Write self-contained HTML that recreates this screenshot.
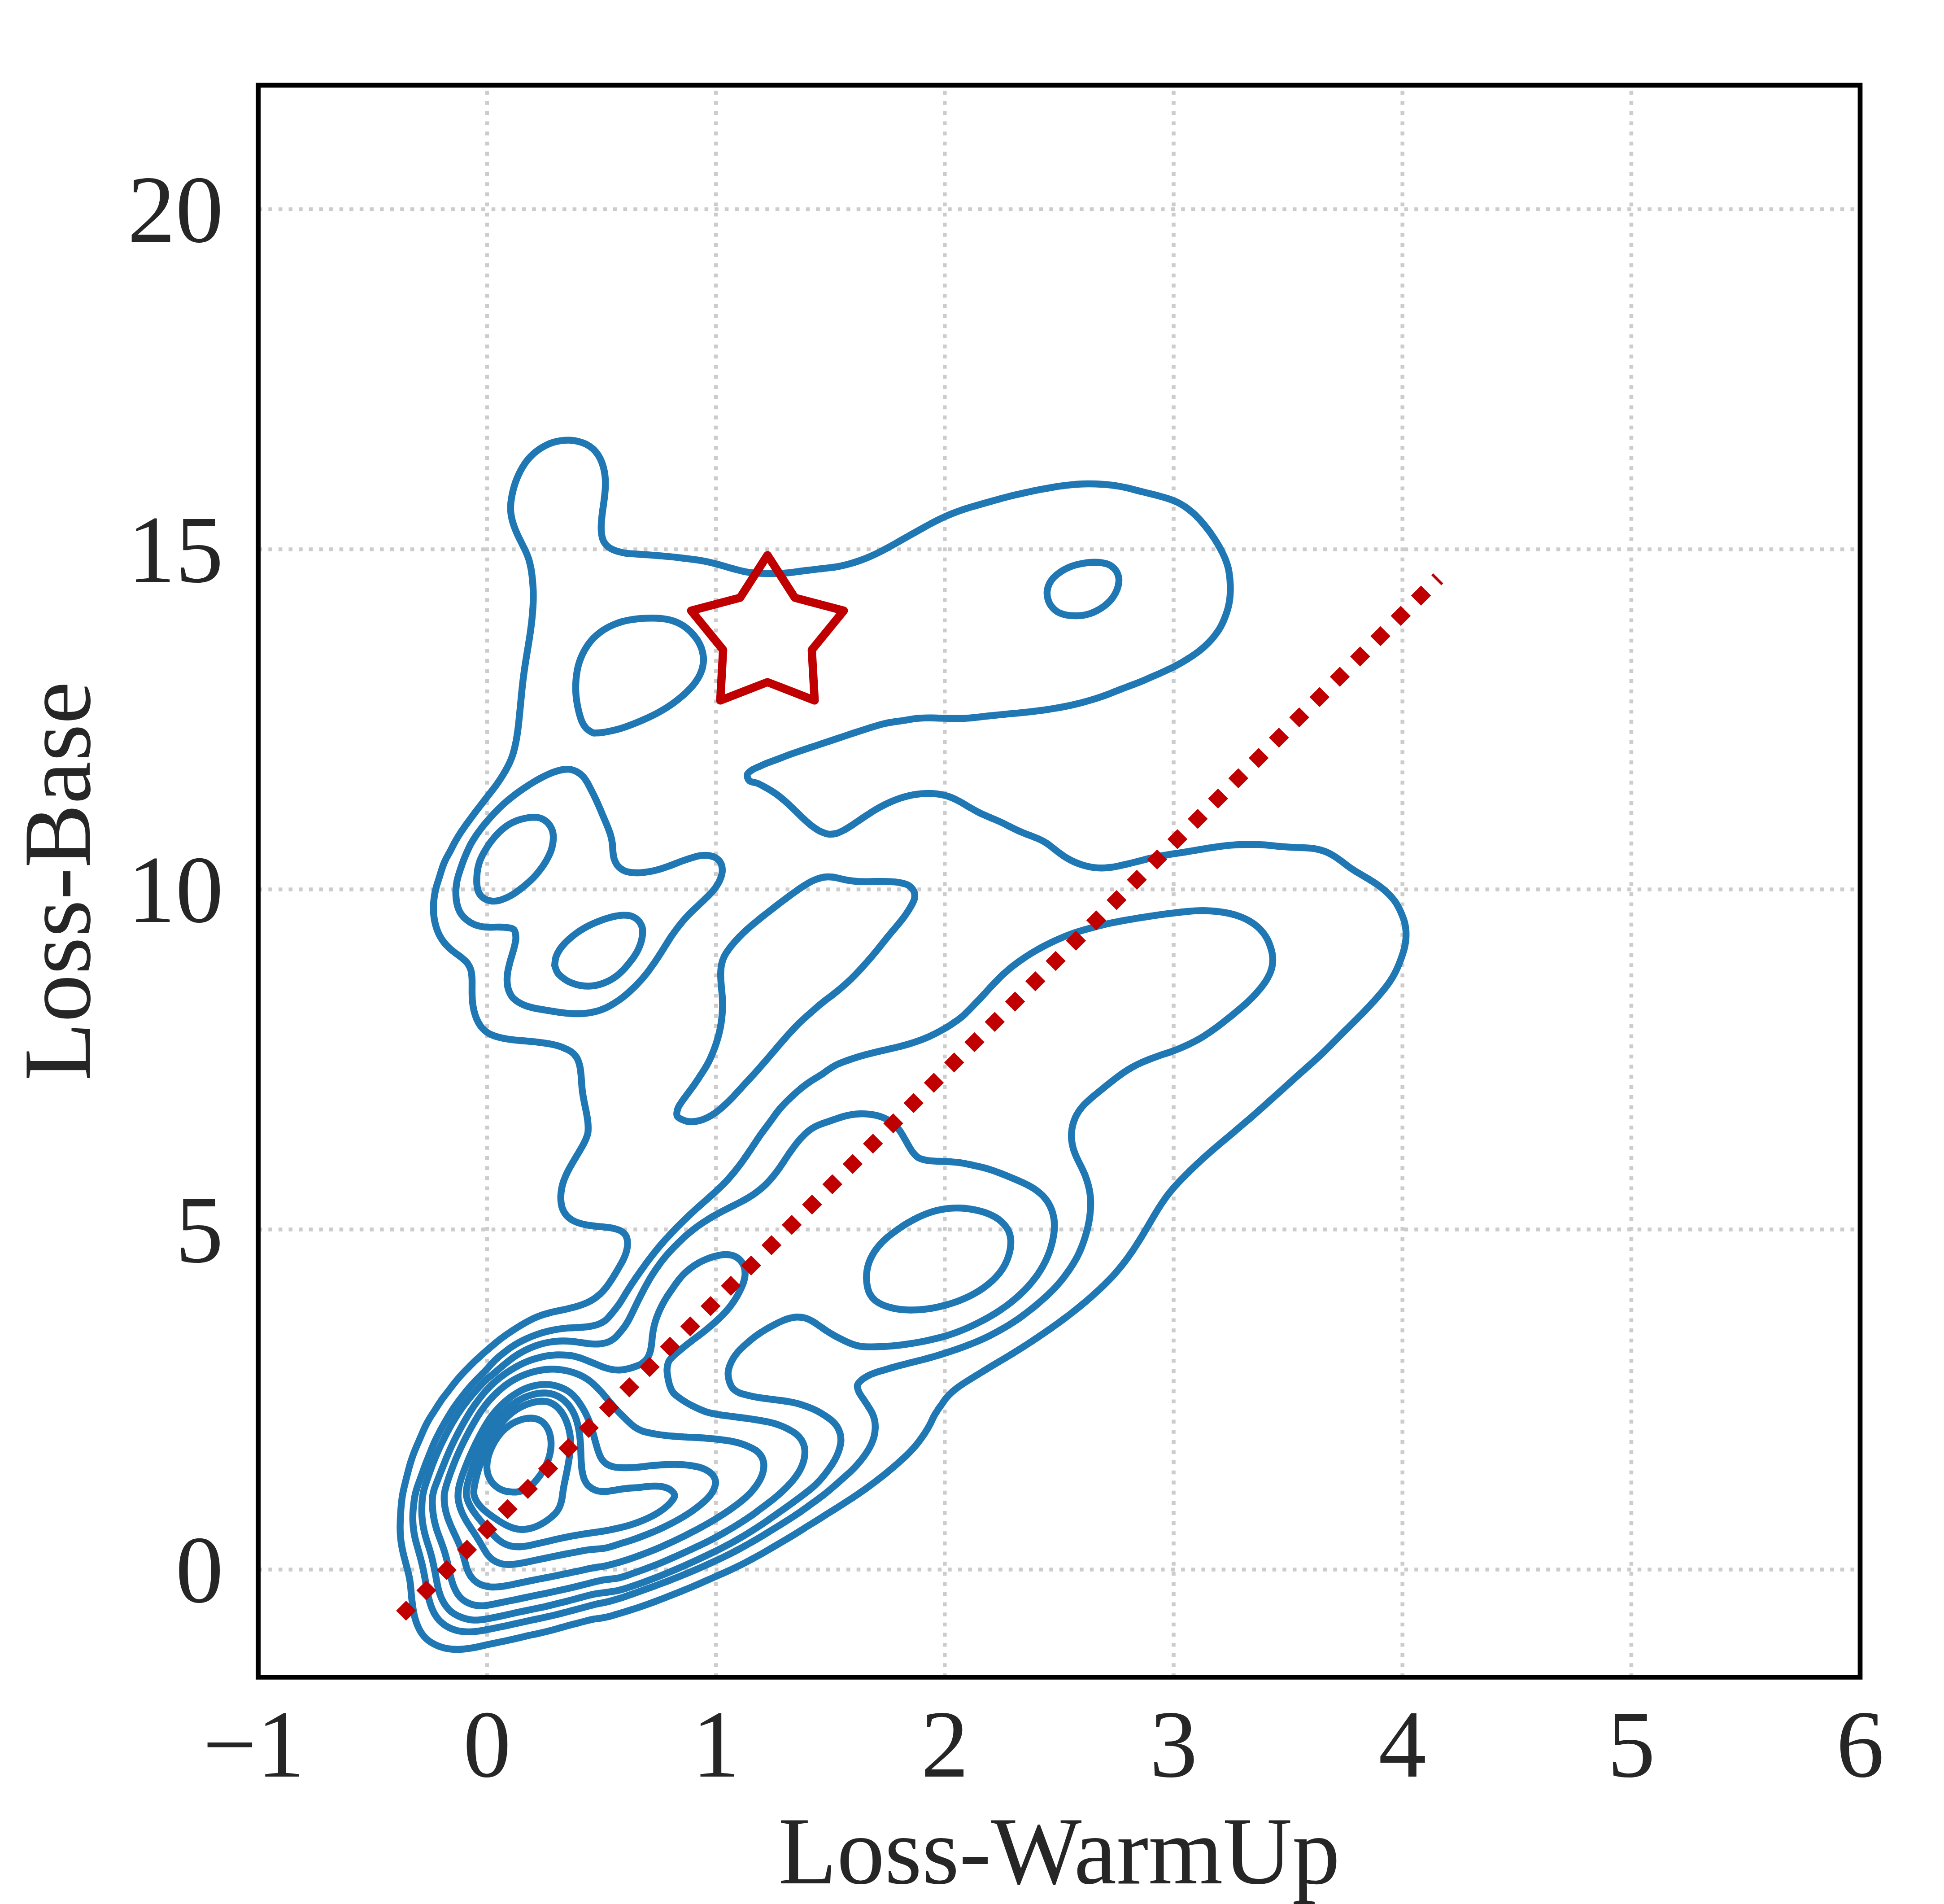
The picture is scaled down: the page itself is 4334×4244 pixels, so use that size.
<!DOCTYPE html>
<html lang="en">
<head>
<meta charset="utf-8">
<title>Loss-Base vs Loss-WarmUp</title>
<style>
html,body{margin:0;padding:0;background:#ffffff;}
body{width:4334px;height:4244px;overflow:hidden;}
svg{display:block;}
</style>
</head>
<body>
<svg width="4334" height="4244" viewBox="0 0 4334 4244">
<rect x="0" y="0" width="4334" height="4244" fill="#ffffff"/>
<g stroke="#cccccc" stroke-width="8.55" stroke-dasharray="8.55 14.06" fill="none"><line x1="575.7" y1="3738.4" x2="575.7" y2="190"/><line x1="1085.9" y1="3738.4" x2="1085.9" y2="190"/><line x1="1596.1" y1="3738.4" x2="1596.1" y2="190"/><line x1="2106.3" y1="3738.4" x2="2106.3" y2="190"/><line x1="2616.5" y1="3738.4" x2="2616.5" y2="190"/><line x1="3126.7" y1="3738.4" x2="3126.7" y2="190"/><line x1="3636.9" y1="3738.4" x2="3636.9" y2="190"/><line x1="4147.1" y1="3738.4" x2="4147.1" y2="190"/><line x1="575.7" y1="3498.4" x2="4147" y2="3498.4"/><line x1="575.7" y1="2740.4" x2="4147" y2="2740.4"/><line x1="575.7" y1="1982.4" x2="4147" y2="1982.4"/><line x1="575.7" y1="1224.4" x2="4147" y2="1224.4"/><line x1="575.7" y1="466.4" x2="4147" y2="466.4"/></g>
<g stroke="#1f77b4" stroke-width="15.4" fill="none" stroke-linejoin="round" stroke-linecap="round"><path d="M2208.1 1822.6C2203.9 1820.8 2198.1 1818.4 2193.1 1816.1C2188.1 1813.8 2183.1 1811.5 2178.2 1808.9C2173.3 1806.3 2168.4 1803.5 2163.6 1800.7C2158.8 1798 2154.3 1795.1 2149.4 1792.2C2144.5 1789.4 2139.4 1786.4 2133.9 1783.7C2128.5 1781 2122.5 1778.2 2116.7 1776.1C2110.9 1774 2105 1772.5 2099.1 1771.3C2093.3 1770.1 2087.5 1769.4 2081.5 1769C2075.5 1768.5 2069.4 1768.4 2063.2 1768.6C2057 1768.9 2050.5 1769.4 2044.4 1770.3C2038.2 1771.1 2032.3 1772.2 2026.2 1773.7C2020 1775.1 2013.4 1777 2007.2 1779C2001.1 1781.1 1995.2 1783.4 1989.3 1785.9C1983.4 1788.4 1977.3 1791.2 1971.7 1794C1966.1 1796.8 1960.6 1799.8 1955.6 1802.7C1950.5 1805.6 1946 1808.4 1941.3 1811.4C1936.6 1814.4 1932.1 1817.4 1927.4 1820.5C1922.7 1823.6 1918.1 1826.8 1913.2 1830.1C1908.3 1833.4 1903.4 1836.9 1898.3 1840.2C1893.1 1843.5 1887.8 1847.1 1882.2 1850C1876.5 1852.9 1870.5 1856.1 1864.5 1857.7C1858.4 1859.2 1851.8 1859.8 1846.1 1859.1C1840.4 1858.5 1835.3 1856.1 1830.1 1853.7C1825 1851.4 1820.1 1848.1 1815.3 1844.8C1810.5 1841.5 1805.7 1837.6 1801.3 1833.8C1796.9 1830.1 1792.8 1826.3 1788.7 1822.4C1784.5 1818.5 1780.7 1814.6 1776.4 1810.4C1772.1 1806.2 1767.4 1801.6 1762.8 1797.3C1758.2 1792.9 1753.4 1788.4 1748.7 1784.4C1744 1780.4 1739.3 1776.5 1734.7 1773C1730 1769.5 1725.4 1766.4 1720.7 1763.3C1715.9 1760.3 1711.2 1757.6 1705.9 1754.7C1700.6 1751.8 1694.6 1748.4 1688.8 1746C1682.9 1743.7 1674.7 1743.8 1670.9 1740.5C1667.2 1737.2 1665 1730.4 1666.1 1726.3C1667.3 1722.1 1673.2 1718.6 1677.6 1715.7C1682.1 1712.7 1687.8 1710.8 1693 1708.4C1698.2 1706 1703.4 1703.6 1709 1701.4C1714.5 1699.1 1720.5 1697.2 1726.3 1695C1732.2 1692.8 1738.1 1690.5 1744.1 1688.2C1750.1 1685.9 1756.3 1683.5 1762.4 1681.3C1768.5 1679.1 1774.6 1677 1780.7 1675C1786.7 1672.9 1792.8 1670.8 1798.7 1668.9C1804.5 1666.9 1809.9 1665.1 1815.7 1663.2C1821.4 1661.3 1827.3 1659.3 1833.1 1657.4C1838.9 1655.5 1844.6 1653.5 1850.4 1651.6C1856.3 1649.6 1862.3 1647.6 1868.2 1645.6C1874 1643.7 1880 1641.7 1885.8 1639.7C1891.7 1637.8 1897.5 1635.8 1903.3 1633.9C1909.2 1632 1915 1630.1 1920.8 1628.2C1926.7 1626.3 1932.6 1624.4 1938.6 1622.5C1944.5 1620.7 1950.5 1618.7 1956.3 1617.1C1962.1 1615.4 1967.8 1613.8 1973.6 1612.5C1979.3 1611.2 1985.1 1610.3 1990.7 1609.4C1996.3 1608.5 2001.5 1607.9 2007.1 1607.1C2012.8 1606.3 2018.6 1605.2 2024.4 1604.3C2030.3 1603.4 2036.2 1602.4 2042.1 1601.7C2048 1601 2054 1600.6 2060 1600.4C2066 1600.1 2072 1600.1 2078 1600.2C2084 1600.2 2090 1600.6 2096 1600.7C2102.1 1600.9 2108.2 1601.1 2114.2 1601.3C2120.2 1601.4 2126.1 1601.5 2132.1 1601.5C2138 1601.5 2144.1 1601.5 2149.9 1601.2C2155.7 1601 2161.3 1600.5 2167 1600C2172.6 1599.4 2178.2 1598.7 2184 1598.1C2189.8 1597.4 2196 1596.7 2202 1596C2208.1 1595.4 2214.2 1594.8 2220.5 1594.1C2226.7 1593.5 2233.1 1592.9 2239.4 1592.3C2245.6 1591.6 2251.9 1591 2258.2 1590.4C2264.4 1589.8 2270.5 1589.3 2276.7 1588.7C2283 1588 2289.3 1587.4 2295.5 1586.7C2301.7 1586 2307.9 1585.2 2314.1 1584.4C2320.2 1583.6 2326.5 1582.8 2332.6 1581.9C2338.7 1580.9 2345 1580 2350.9 1579C2356.9 1578 2362.7 1577 2368.4 1575.9C2374 1574.8 2379.5 1573.7 2385 1572.6C2390.6 1571.4 2396 1570.2 2401.5 1568.8C2407 1567.4 2412.6 1566 2418.2 1564.4C2423.8 1562.9 2429.5 1561.2 2435.1 1559.5C2440.7 1557.8 2446.1 1556.1 2451.7 1554.2C2457.3 1552.3 2463 1550.3 2468.7 1548.2C2474.3 1546.1 2480 1543.7 2485.6 1541.5C2491.2 1539.3 2496.7 1537.1 2502.3 1535C2507.9 1532.8 2513.7 1530.7 2519.4 1528.5C2525.1 1526.4 2530.7 1524.4 2536.4 1522.1C2542.1 1519.9 2548 1517.5 2553.7 1515C2559.5 1512.5 2565.3 1509.9 2571.1 1507.3C2576.9 1504.8 2582.7 1502.3 2588.5 1499.7C2594.3 1497 2600.5 1494.4 2606 1491.7C2611.6 1489.1 2616.8 1486.5 2622 1483.8C2627.1 1481 2632 1478.3 2637 1475.4C2642.1 1472.4 2647.2 1469.3 2652.2 1466.1C2657.2 1462.8 2662.3 1459.4 2667.1 1455.9C2671.8 1452.5 2676.4 1448.9 2680.7 1445.2C2685.1 1441.5 2689.1 1437.9 2693.2 1433.7C2697.3 1429.5 2701.6 1424.8 2705.5 1420.1C2709.4 1415.3 2713.3 1410.1 2716.6 1405.1C2719.8 1400.1 2722.4 1395.4 2724.9 1390.2C2727.4 1385 2729.6 1379.7 2731.7 1374C2733.8 1368.4 2736 1362.1 2737.6 1356.1C2739.2 1350.1 2740.4 1344 2741.3 1338C2742.2 1332 2742.6 1326 2742.8 1320C2743.1 1314 2743 1308 2742.7 1302C2742.5 1296 2742 1290 2741.2 1284C2740.5 1278 2739.6 1272 2738.2 1266C2736.7 1260 2734.7 1253.9 2732.5 1248C2730.2 1242.1 2727.3 1236.1 2724.6 1230.6C2721.9 1225 2719 1220 2716.1 1214.9C2713.2 1209.8 2710.1 1204.9 2707 1200.1C2703.8 1195.3 2700.7 1190.8 2697.4 1186.1C2694 1181.5 2690.5 1177 2686.8 1172.4C2683 1167.8 2678.9 1162.9 2674.7 1158.3C2670.5 1153.8 2666.2 1149.2 2661.6 1145C2656.9 1140.8 2651.9 1136.6 2647 1133C2642.1 1129.4 2637.1 1126.2 2632.1 1123.4C2627.1 1120.6 2622.3 1118.4 2617.1 1116.2C2611.8 1114 2606.3 1112.2 2600.6 1110.3C2594.8 1108.5 2588.5 1106.8 2582.7 1105.2C2576.8 1103.6 2571.2 1102.2 2565.4 1100.8C2559.6 1099.3 2553.7 1097.9 2547.9 1096.4C2542 1095 2536.2 1093.5 2530.4 1092C2524.6 1090.5 2518.9 1088.9 2513.1 1087.6C2507.4 1086.3 2501.6 1085 2495.8 1084C2490 1082.9 2484.1 1082.1 2478.2 1081.3C2472.4 1080.6 2466.6 1080 2460.7 1079.6C2454.8 1079.1 2448.8 1078.9 2442.9 1078.7C2437 1078.5 2431.3 1078.4 2425.4 1078.5C2419.5 1078.6 2413.4 1078.7 2407.7 1079C2402 1079.3 2396.8 1079.7 2391.1 1080.3C2385.4 1080.8 2379.4 1081.5 2373.5 1082.2C2367.6 1082.9 2361.7 1083.8 2355.7 1084.7C2349.7 1085.7 2343.7 1086.7 2337.5 1087.8C2331.3 1088.9 2324.7 1090.1 2318.5 1091.3C2312.3 1092.5 2306.3 1093.7 2300.3 1094.9C2294.2 1096.2 2288.3 1097.5 2282.3 1098.9C2276.3 1100.2 2270.2 1101.6 2264.1 1103.1C2258 1104.5 2252 1106 2245.9 1107.6C2239.8 1109.2 2233.6 1110.8 2227.5 1112.5C2221.5 1114.1 2215.3 1115.9 2209.4 1117.5C2203.4 1119.2 2197.6 1120.9 2191.8 1122.5C2186 1124.2 2180.2 1125.8 2174.5 1127.5C2168.9 1129.1 2163.5 1130.6 2158 1132.3C2152.5 1134.1 2147.2 1135.8 2141.7 1137.7C2136.2 1139.6 2130.4 1141.8 2124.8 1144C2119.2 1146.2 2113.7 1148.5 2108.1 1151C2102.5 1153.5 2096.9 1156.1 2091.3 1158.9C2085.6 1161.7 2079.9 1164.8 2074.2 1167.8C2068.6 1170.8 2062.9 1174 2057.5 1177C2052.1 1179.9 2046.9 1182.8 2041.8 1185.7C2036.6 1188.6 2031.8 1191.3 2026.8 1194.1C2021.8 1196.9 2016.9 1199.7 2012 1202.5C2007 1205.4 2002 1208.2 1997 1211.1C1992 1213.9 1987.1 1216.8 1982 1219.6C1976.8 1222.4 1971.6 1225.2 1966.1 1228C1960.7 1230.7 1954.8 1233.7 1949.1 1236.3C1943.4 1239 1937.7 1241.5 1931.9 1243.9C1926.1 1246.2 1920.2 1248.4 1914.4 1250.4C1908.6 1252.4 1903 1254.2 1897.2 1255.9C1891.3 1257.6 1885.4 1259.2 1879.5 1260.5C1873.7 1261.8 1867.8 1262.9 1862 1263.9C1856.2 1264.8 1850.5 1265.4 1844.6 1266.1C1838.7 1266.9 1832.6 1267.5 1826.6 1268.2C1820.5 1268.8 1814.5 1269.6 1808.4 1270.3C1802.4 1271 1796.1 1271.8 1790.2 1272.5C1784.2 1273.3 1778.5 1274.1 1772.8 1274.8C1767 1275.6 1761.4 1276.3 1755.7 1276.9C1750 1277.4 1744.3 1277.8 1738.6 1278.1C1732.9 1278.4 1727.1 1278.5 1721.4 1278.5C1715.7 1278.6 1710 1278.5 1704.3 1278.3C1698.6 1278.2 1692.9 1278 1687.1 1277.6C1681.4 1277.2 1675.7 1276.6 1670 1275.8C1664.3 1274.9 1658.6 1273.7 1652.9 1272.4C1647.1 1271.1 1641.4 1269.5 1635.7 1268C1630 1266.5 1624.3 1264.8 1618.6 1263.2C1612.9 1261.5 1607.1 1259.7 1601.4 1258.2C1595.8 1256.6 1590.2 1255.1 1584.7 1253.9C1579.2 1252.6 1574.2 1251.6 1568.5 1250.5C1562.9 1249.5 1556.7 1248.5 1550.8 1247.7C1545 1246.8 1539.4 1246.1 1533.4 1245.4C1527.4 1244.6 1521.1 1243.9 1514.9 1243.2C1508.8 1242.5 1502.6 1241.8 1496.4 1241.2C1490.3 1240.6 1484.2 1239.9 1478 1239.4C1471.7 1238.8 1465.1 1238.3 1458.9 1237.8C1452.7 1237.3 1446.9 1236.9 1440.9 1236.5C1434.9 1236 1428.9 1235.7 1423.1 1235.3C1417.2 1234.9 1411.5 1234.7 1405.8 1234.2C1400.1 1233.6 1394.7 1233.2 1388.9 1231.9C1383.1 1230.7 1376.3 1229.1 1370.8 1226.9C1365.3 1224.7 1359.9 1222.1 1355.7 1218.7C1351.5 1215.3 1348.1 1211.1 1345.7 1206.5C1343.3 1201.8 1342.1 1195.9 1341.2 1190.6C1340.3 1185.4 1340.3 1180.6 1340.3 1175.1C1340.3 1169.6 1340.8 1163.8 1341.3 1157.8C1341.8 1151.9 1342.6 1145.5 1343.3 1139.5C1344.1 1133.5 1345.1 1127.7 1345.9 1121.8C1346.6 1115.9 1347.5 1110 1348.1 1104.1C1348.7 1098.2 1349.3 1092.3 1349.5 1086.4C1349.8 1080.5 1349.9 1074.6 1349.5 1068.6C1349.1 1062.6 1348.5 1056.6 1347.3 1050.6C1346.1 1044.5 1344.5 1038.1 1342.3 1032.1C1340.1 1026.2 1337.3 1020.1 1333.9 1014.8C1330.5 1009.6 1326.6 1004.6 1321.9 1000.5C1317.2 996.3 1311.5 992.6 1305.8 989.7C1300 986.9 1293.6 984.8 1287.4 983.4C1281.1 981.9 1274.5 981.3 1268.2 981.1C1261.9 981 1255.6 981.6 1249.7 982.4C1243.9 983.3 1238.4 984.5 1233 986.2C1227.7 987.8 1222.7 989.8 1217.6 992.3C1212.5 994.8 1207.4 997.8 1202.4 1001.2C1197.4 1004.7 1192.1 1008.9 1187.6 1013C1183.1 1017.2 1179.1 1021.6 1175.4 1026.2C1171.7 1030.8 1168.7 1035.3 1165.5 1040.4C1162.4 1045.6 1159.3 1051.2 1156.6 1057C1153.9 1062.7 1151.4 1069 1149.2 1075C1147.1 1081.1 1145.3 1087.2 1143.8 1093.3C1142.3 1099.3 1141 1105.5 1140.1 1111.6C1139.1 1117.7 1138.5 1123.9 1138.3 1129.8C1138.2 1135.7 1138.5 1141.1 1139.4 1146.9C1140.2 1152.8 1141.7 1158.8 1143.4 1164.8C1145.2 1170.7 1147.5 1176.9 1149.8 1182.6C1152.1 1188.4 1154.7 1193.8 1157.3 1199.2C1159.8 1204.6 1162.6 1209.8 1165.1 1215C1167.7 1220.2 1170.4 1225 1172.7 1230.4C1175 1235.8 1177.3 1241.5 1179.1 1247.3C1180.8 1253.1 1182.2 1259.3 1183.4 1265.2C1184.5 1271.1 1185.3 1276.8 1186.1 1282.7C1186.8 1288.6 1187.4 1294.6 1187.8 1300.3C1188.3 1306.1 1188.6 1311.6 1188.8 1317.4C1188.9 1323.1 1189 1329 1188.9 1334.7C1188.8 1340.4 1188.6 1345.9 1188.3 1351.6C1187.9 1357.2 1187.5 1363 1187 1368.6C1186.5 1374.3 1186 1379.9 1185.4 1385.5C1184.7 1391 1184.1 1396.4 1183.3 1402C1182.6 1407.6 1181.7 1413.2 1180.9 1419C1180 1424.9 1179.1 1430.8 1178.1 1436.9C1177.1 1443 1176 1449.5 1175 1455.6C1174 1461.8 1172.9 1468.1 1172 1474.1C1171 1480.1 1170.1 1485.9 1169.3 1491.6C1168.5 1497.3 1167.8 1502.6 1167.1 1508.3C1166.3 1513.9 1165.7 1519.3 1165 1525.3C1164.3 1531.2 1163.7 1537.6 1163 1543.9C1162.4 1550.1 1161.8 1556.7 1161.2 1562.9C1160.6 1569.1 1160 1575.2 1159.4 1581.2C1158.8 1587.1 1158.3 1592.9 1157.7 1598.6C1157.1 1604.3 1156.6 1609.7 1155.9 1615.4C1155.3 1621.1 1154.6 1627 1153.7 1632.7C1152.9 1638.5 1152 1644.3 1150.9 1650.1C1149.8 1656 1148.5 1662 1147.1 1667.9C1145.7 1673.7 1144.1 1679.5 1142.2 1685.1C1140.2 1690.7 1138 1696.1 1135.5 1701.5C1132.9 1707 1130 1712.3 1127 1717.7C1123.9 1723.1 1120.6 1728.6 1117.2 1733.9C1113.8 1739.2 1110.2 1744.5 1106.6 1749.5C1103.1 1754.4 1099.5 1758.9 1095.9 1763.6C1092.3 1768.2 1088.6 1772.9 1085.1 1777.5C1081.5 1782.1 1078 1786.6 1074.4 1791.2C1070.8 1795.8 1067.3 1800.5 1063.7 1805.1C1060.1 1809.8 1056.6 1814.6 1053 1819.4C1049.4 1824.2 1045.8 1829 1042.3 1833.8C1038.8 1838.7 1035.5 1843.3 1032 1848.4C1028.5 1853.5 1024.8 1859 1021.5 1864.4C1018.1 1869.8 1015.1 1875.3 1012.1 1880.7C1009.2 1886.2 1006.6 1891.8 1003.8 1897.1C1001 1902.3 998 1907.2 995.5 1912.1C993 1917.1 990.7 1921.8 988.7 1927C986.6 1932.1 985.1 1937.4 983.3 1942.9C981.6 1948.4 979.9 1954.1 978.1 1959.8C976.3 1965.5 974.3 1971.2 972.7 1977.2C971.2 1983.2 969.7 1989.5 968.7 1995.7C967.7 2001.9 966.9 2008.2 966.5 2014.5C966.2 2020.8 966.2 2027.1 966.5 2033.3C966.9 2039.5 967.7 2045.9 968.8 2051.8C969.9 2057.7 971.4 2063.5 973.2 2068.9C975 2074.4 977 2079.4 979.6 2084.5C982.2 2089.5 985.2 2094.3 988.8 2099C992.4 2103.7 996.6 2108.4 1001 2112.6C1005.4 2116.8 1010.4 2120.5 1015.1 2124.2C1019.9 2127.9 1025.1 2131.1 1029.6 2134.9C1034.1 2138.8 1038.9 2142.7 1042.2 2147.1C1045.5 2151.6 1047.9 2156.3 1049.6 2161.6C1051.2 2166.9 1051.7 2172.9 1052.2 2178.9C1052.7 2185 1052.4 2191.6 1052.5 2197.8C1052.5 2204 1052.3 2210 1052.5 2216.2C1052.7 2222.3 1052.8 2228.5 1053.6 2234.7C1054.3 2240.9 1055.3 2247.3 1056.8 2253.5C1058.4 2259.7 1060.4 2266.2 1063 2272.1C1065.7 2278 1068.9 2283.8 1072.6 2288.6C1076.4 2293.4 1080.5 2297.4 1085.5 2300.8C1090.4 2304.2 1096.2 2306.8 1102.1 2309C1107.9 2311.2 1114.5 2312.7 1120.5 2314C1126.6 2315.4 1132.6 2316.2 1138.6 2317.1C1144.6 2317.9 1150.5 2318.5 1156.4 2319C1162.3 2319.6 1168.2 2320 1174.1 2320.5C1180 2321.1 1185.9 2321.6 1191.8 2322.2C1197.7 2322.9 1203.5 2323.5 1209.5 2324.3C1215.5 2325.2 1221.7 2326.1 1227.6 2327.2C1233.6 2328.4 1239.5 2329.7 1245 2331.4C1250.5 2333.1 1255.5 2335.1 1260.5 2337.4C1265.5 2339.7 1270.7 2341.9 1275 2345.4C1279.4 2348.9 1283.6 2353.6 1286.5 2358.7C1289.4 2363.8 1291.2 2370.1 1292.6 2376.2C1294.1 2382.3 1294.7 2388.9 1295.3 2395.2C1296 2401.6 1296.1 2408.1 1296.7 2414.4C1297.2 2420.8 1297.7 2427.1 1298.5 2433.3C1299.3 2439.4 1300.3 2445.2 1301.5 2451.3C1302.6 2457.3 1304 2463.6 1305.2 2469.7C1306.5 2475.8 1307.8 2481.7 1308.7 2487.8C1309.7 2493.9 1310.7 2500.2 1311 2506.5C1311.3 2512.7 1311.7 2519.3 1310.6 2525.3C1309.6 2531.2 1307.1 2536.8 1304.7 2542.4C1302.2 2548.1 1298.9 2553.7 1295.9 2559.1C1292.9 2564.5 1289.7 2569.6 1286.6 2574.8C1283.6 2579.9 1280.5 2584.9 1277.5 2590.1C1274.4 2595.4 1271.2 2600.9 1268.3 2606.4C1265.4 2611.9 1262.6 2617.5 1260.3 2623.1C1257.9 2628.6 1255.8 2634 1254.3 2639.8C1252.7 2645.6 1251.5 2651.7 1250.9 2657.7C1250.2 2663.7 1250 2669.9 1250.4 2675.8C1250.9 2681.6 1251.5 2687.4 1253.6 2692.9C1255.6 2698.4 1258.9 2704.4 1262.6 2708.8C1266.2 2713.2 1270.5 2716.5 1275.5 2719.5C1280.4 2722.4 1286.2 2724.6 1292.1 2726.5C1297.9 2728.4 1304.5 2729.7 1310.6 2730.8C1316.7 2731.9 1322.6 2732.5 1328.9 2733.3C1335.2 2734 1341.8 2734.4 1348.3 2735.2C1354.7 2736 1361.5 2736.6 1367.6 2738C1373.7 2739.5 1380 2741.1 1384.7 2744C1389.5 2746.9 1393.6 2750.7 1396 2755.5C1398.4 2760.3 1399 2767 1399.1 2772.9C1399.1 2778.9 1397.7 2785.2 1396.1 2791.1C1394.5 2796.9 1392.1 2802.5 1389.4 2808C1386.8 2813.6 1383.3 2819.2 1380.3 2824.5C1377.3 2829.8 1374.3 2834.8 1371.2 2839.9C1368.1 2845 1365 2850.1 1361.6 2855.1C1358.3 2860.1 1354.9 2865.3 1351.1 2870.1C1347.3 2874.8 1343.1 2879.4 1338.8 2883.5C1334.4 2887.5 1329.7 2891.3 1325 2894.6C1320.3 2897.8 1315.6 2900.4 1310.5 2902.9C1305.4 2905.3 1300.1 2907.3 1294.5 2909.2C1288.9 2911.1 1282.9 2912.8 1277 2914.4C1271.1 2916 1265 2917.4 1259.1 2918.8C1253.2 2920.1 1247.3 2921.2 1241.4 2922.5C1235.5 2923.9 1229.6 2925.1 1223.7 2926.7C1217.8 2928.3 1211.7 2930 1206.1 2932C1200.5 2934 1195.2 2936.2 1190 2938.6C1184.9 2941 1180 2943.6 1175 2946.3C1169.9 2949.1 1164.9 2952 1159.8 2955C1154.8 2958.1 1149.8 2961.2 1144.7 2964.5C1139.6 2967.8 1134.4 2971.3 1129.4 2974.8C1124.3 2978.3 1119.4 2981.8 1114.5 2985.6C1109.6 2989.4 1104.8 2993.5 1100 2997.5C1095.2 3001.4 1090.4 3005.6 1085.9 3009.5C1081.4 3013.4 1077.3 3017 1073 3020.9C1068.7 3024.8 1064.3 3028.7 1060 3032.8C1055.8 3036.9 1051.5 3041 1047.3 3045.3C1043.1 3049.5 1038.9 3053.7 1034.8 3058.1C1030.7 3062.4 1026.5 3066.9 1022.6 3071.5C1018.6 3076.1 1014.8 3080.7 1011.1 3085.5C1007.3 3090.3 1003.6 3095.3 999.9 3100.1C996.2 3105 992.3 3109.6 988.8 3114.4C985.2 3119.2 981.9 3124.1 978.7 3129C975.5 3133.9 972.5 3138.7 969.4 3143.6C966.2 3148.4 963.1 3153 960 3158.1C956.8 3163.3 953.6 3168.9 950.6 3174.5C947.7 3180.2 945 3186.3 942.4 3192.1C939.8 3198 937.4 3203.9 935 3209.6C932.5 3215.3 929.9 3220.9 927.6 3226.5C925.3 3232.1 923 3237.6 920.9 3243.4C918.8 3249.2 916.8 3255.3 914.9 3261.4C913.1 3267.6 911.3 3274 909.7 3280.4C908 3286.7 906.4 3293.2 904.8 3299.6C903.3 3305.9 901.5 3312.5 900.2 3318.5C898.8 3324.5 897.8 3329.8 896.8 3335.7C895.9 3341.7 895.3 3348.2 894.6 3354.4C894 3360.6 893.6 3366.7 893.2 3372.8C892.8 3378.9 892.5 3385 892.3 3391.1C892.1 3397.2 891.9 3403.2 892.1 3409.3C892.2 3415.4 892.5 3421.5 893.1 3427.7C893.7 3433.9 894.6 3440.1 895.7 3446.3C896.8 3452.5 898.2 3458.7 899.6 3465C901.1 3471.3 902.9 3477.5 904.5 3483.8C906.2 3490.1 908 3496.8 909.5 3502.8C911 3508.8 912.3 3514.3 913.3 3519.9C914.3 3525.5 914.8 3530.3 915.5 3536.1C916.1 3542 916.5 3548.6 917.1 3554.9C917.7 3561.2 918.4 3567.7 919.2 3573.7C920 3579.8 920.7 3585.6 921.8 3591.3C922.8 3597.1 923.9 3602.6 925.6 3608.2C927.2 3613.8 929.2 3619.5 931.5 3624.8C933.8 3630.1 936.5 3635.4 939.6 3640.1C942.7 3644.7 946.3 3649 950.4 3652.8C954.4 3656.5 959 3659.8 964 3662.7C969 3665.6 974.5 3668.1 980.3 3670.2C986.1 3672.2 992.5 3673.9 998.7 3674.9C1004.9 3676 1011.2 3676.4 1017.5 3676.5C1023.7 3676.6 1029.9 3676.1 1036.1 3675.5C1042.3 3674.9 1048.5 3674 1054.6 3672.9C1060.7 3671.8 1066.7 3670.4 1072.8 3669.1C1078.9 3667.8 1084.9 3666.3 1091 3665C1097 3663.7 1103 3662.5 1109 3661.2C1115 3660 1121 3658.8 1127 3657.5C1133 3656.3 1139 3655 1145 3653.6C1151 3652.3 1157 3650.7 1163 3649.3C1169 3647.8 1175 3646.4 1181 3645C1187 3643.7 1193 3642.6 1199 3641.2C1205 3639.9 1211 3638.6 1217 3637.1C1223 3635.6 1229 3634.1 1235 3632.4C1241 3630.8 1247 3628.9 1253 3627.3C1259 3625.6 1265.1 3623.8 1271.1 3622.2C1277.1 3620.7 1283.2 3619.2 1289 3617.7C1294.9 3616.2 1300.6 3614.5 1306.2 3613.1C1311.9 3611.6 1317.2 3610.2 1322.8 3609.1C1328.4 3608.1 1334.1 3607.8 1339.7 3606.9C1345.3 3605.9 1350.9 3604.9 1356.6 3603.5C1362.2 3602.1 1368.1 3600.2 1373.8 3598.5C1379.6 3596.9 1385.3 3595.1 1391.1 3593.3C1396.9 3591.6 1402.6 3589.8 1408.4 3587.9C1414.2 3586.1 1420 3584.2 1425.8 3582.2C1431.5 3580.2 1437.3 3578.2 1443 3576.2C1448.7 3574.1 1454.4 3572.1 1459.9 3570C1465.4 3568 1470.8 3565.9 1476.1 3563.9C1481.4 3561.8 1486.4 3559.8 1491.7 3557.7C1497.1 3555.7 1502.5 3553.5 1508 3551.3C1513.5 3549.2 1519 3547 1524.5 3544.7C1530.1 3542.4 1535.6 3540.1 1541.2 3537.8C1546.8 3535.4 1552.3 3533.1 1558 3530.6C1563.7 3528.1 1569.6 3525.5 1575.5 3522.9C1581.4 3520.3 1587.4 3517.6 1593.3 3515C1599.3 3512.4 1605.4 3509.7 1611.2 3507.1C1617.1 3504.5 1622.8 3501.9 1628.2 3499.4C1633.5 3497 1638.4 3494.7 1643.5 3492.2C1648.6 3489.8 1653.7 3487.2 1658.9 3484.5C1664.1 3481.9 1669.6 3478.9 1674.8 3476.1C1679.9 3473.4 1684.8 3470.7 1689.8 3467.9C1694.7 3465.2 1699.4 3462.6 1704.6 3459.6C1709.8 3456.6 1715.7 3453.1 1721 3450C1726.4 3446.9 1731.5 3443.9 1736.5 3440.9C1741.5 3437.9 1746.1 3435.2 1751.1 3432.3C1756 3429.4 1761 3426.5 1766 3423.5C1771 3420.5 1776 3417.4 1780.9 3414.3C1785.8 3411.3 1790.5 3408.1 1795.5 3405C1800.5 3401.8 1805.8 3398.6 1810.9 3395.5C1816 3392.3 1821.2 3389.2 1826.1 3386.1C1831 3383.1 1835.6 3380 1840.3 3377C1845 3374.1 1849.6 3371.1 1854.3 3368.2C1859 3365.3 1863.6 3362.4 1868.3 3359.5C1873 3356.5 1877.7 3353.5 1882.3 3350.5C1887 3347.5 1891.7 3344.5 1896.4 3341.4C1901 3338.4 1905.7 3335.3 1910.3 3332.1C1915 3329 1919.7 3325.7 1924.4 3322.4C1929 3319.2 1933.7 3315.8 1938.2 3312.5C1942.7 3309.2 1947 3305.9 1951.4 3302.6C1955.7 3299.3 1960 3296 1964.4 3292.6C1968.8 3289.2 1973 3286 1977.6 3282.2C1982.1 3278.5 1986.9 3274.4 1991.8 3270.2C1996.7 3266 2001.9 3261.4 2006.8 3257C2011.7 3252.5 2016.8 3248 2021.4 3243.6C2026 3239.1 2030.1 3234.9 2034.2 3230.4C2038.3 3225.9 2042.1 3221.3 2045.9 3216.6C2049.6 3211.8 2053.3 3206.9 2056.7 3202C2060.2 3197.1 2063.5 3192 2066.5 3187C2069.6 3181.9 2072.3 3176.9 2075 3171.7C2077.6 3166.5 2079.9 3160.7 2082.6 3155.8C2085.4 3150.8 2088.4 3146.4 2091.3 3141.9C2094.3 3137.5 2097.2 3133.4 2100.4 3129C2103.5 3124.6 2106.5 3119.7 2110.1 3115.5C2113.6 3111.3 2117.4 3107.5 2121.5 3103.8C2125.7 3100 2130.3 3096.3 2134.9 3092.8C2139.4 3089.4 2144.1 3086.3 2149 3083.1C2153.9 3079.9 2159.3 3076.6 2164.3 3073.5C2169.4 3070.3 2174.3 3067.3 2179.3 3064.2C2184.3 3061.2 2189.1 3058.2 2194.2 3055.1C2199.3 3052 2204.6 3048.8 2209.7 3045.7C2214.7 3042.7 2219.7 3039.7 2224.7 3036.7C2229.7 3033.7 2234.7 3030.8 2239.7 3027.8C2244.7 3024.8 2249.9 3021.7 2254.9 3018.7C2259.9 3015.6 2265 3012.5 2270 3009.3C2275 3006.2 2280 3003 2285 2999.8C2290 2996.5 2295 2993.3 2300 2990C2305 2986.7 2310 2983.3 2315 2980C2320 2976.6 2325.1 2973.1 2330.2 2969.7C2335.2 2966.2 2340.3 2962.6 2345.3 2959.1C2350.3 2955.6 2355.3 2952 2360.1 2948.5C2365 2945 2369.7 2941.5 2374.3 2938C2379 2934.5 2383.6 2931 2388.1 2927.5C2392.6 2924 2396.9 2920.6 2401.4 2917C2405.8 2913.4 2410.2 2909.8 2414.7 2906C2419.2 2902.3 2423.9 2898.3 2428.3 2894.4C2432.8 2890.6 2437.1 2886.7 2441.5 2882.8C2445.9 2878.8 2450.2 2874.7 2454.7 2870.6C2459.1 2866.4 2463.7 2862 2468 2857.6C2472.4 2853.3 2476.7 2848.9 2480.8 2844.4C2485 2839.9 2489 2835.4 2492.9 2830.7C2496.8 2826.1 2500.6 2821.4 2504.2 2816.7C2507.9 2812 2511.5 2807.2 2514.9 2802.5C2518.3 2797.8 2521.6 2793.1 2524.8 2788.4C2528 2783.7 2530.9 2779.2 2534 2774.3C2537.1 2769.5 2540.2 2764.6 2543.4 2759.5C2546.5 2754.4 2549.8 2748.9 2553 2743.6C2556.2 2738.2 2559.3 2732.9 2562.5 2727.5C2565.7 2722.1 2568.8 2716.7 2572 2711.3C2575.2 2706 2578.4 2700.5 2581.7 2695.3C2585 2690.1 2588.3 2685 2591.7 2680C2595.1 2674.9 2598.6 2669.9 2602.2 2665.1C2605.9 2660.3 2609.7 2655.6 2613.4 2651.2C2617.1 2646.8 2620.6 2642.9 2624.5 2638.7C2628.3 2634.6 2632.4 2630.4 2636.5 2626.2C2640.6 2621.9 2644.8 2617.7 2649.1 2613.5C2653.4 2609.2 2657.7 2605.1 2662.1 2600.8C2666.6 2596.6 2671.3 2592.2 2675.9 2587.9C2680.5 2583.7 2685.2 2579.3 2689.8 2575.2C2694.4 2571.2 2698.8 2567.3 2703.3 2563.4C2707.9 2559.5 2712.4 2555.7 2717 2551.8C2721.6 2548 2726.2 2544.1 2730.8 2540.2C2735.4 2536.4 2740 2532.5 2744.6 2528.6C2749.2 2524.7 2753.8 2520.8 2758.4 2516.9C2763 2513.1 2767.6 2509.2 2772.1 2505.3C2776.7 2501.4 2781.2 2497.6 2785.6 2493.8C2790.1 2489.9 2794.6 2486 2798.9 2482.2C2803.3 2478.3 2807.5 2474.6 2811.9 2470.7C2816.3 2466.8 2820.8 2462.8 2825.2 2458.8C2829.7 2454.7 2834.4 2450.5 2838.8 2446.6C2843.2 2442.6 2847.3 2438.9 2851.7 2435C2856.1 2431 2860.7 2426.9 2865.2 2422.8C2869.7 2418.7 2874.4 2414.5 2878.8 2410.5C2883.3 2406.5 2887.5 2402.6 2892 2398.6C2896.5 2394.6 2901.1 2390.4 2905.7 2386.4C2910.2 2382.3 2914.9 2378.2 2919.4 2374.2C2923.9 2370.2 2928.3 2366.3 2932.7 2362.3C2937.1 2358.3 2941.5 2354.2 2945.8 2350.1C2950.1 2346 2954.3 2341.9 2958.5 2337.8C2962.7 2333.7 2966.8 2329.5 2971 2325.3C2975.2 2321.1 2979.3 2316.8 2983.5 2312.6C2987.7 2308.4 2991.8 2304.2 2996 2300C3000.2 2295.8 3004.5 2291.6 3008.8 2287.4C3013 2283.2 3017.4 2278.9 3021.6 2274.7C3025.8 2270.5 3030 2266.4 3034.1 2262.2C3038.2 2258 3042.2 2254 3046.3 2249.6C3050.5 2245.2 3055 2240.4 3059.2 2235.8C3063.4 2231.2 3067.6 2226.6 3071.5 2222.1C3075.5 2217.6 3079 2213.4 3082.7 2208.9C3086.4 2204.3 3090.3 2199.5 3093.7 2194.7C3097.2 2189.9 3100.3 2185.3 3103.4 2180.4C3106.4 2175.4 3109.2 2170.4 3111.9 2164.9C3114.6 2159.4 3117.2 2153.3 3119.6 2147.4C3121.9 2141.5 3124.2 2135.6 3126.1 2129.6C3128.1 2123.6 3130.1 2117.6 3131.4 2111.6C3132.8 2105.5 3133.8 2099.3 3134.3 2093.1C3134.8 2086.8 3134.8 2080.2 3134.4 2074.1C3133.9 2068 3132.9 2062 3131.6 2056.5C3130.2 2051 3128.4 2046.3 3126.3 2041C3124.2 2035.6 3121.8 2029.8 3118.9 2024.4C3116.1 2018.9 3112.9 2013.2 3109.2 2008.1C3105.5 2003 3101.1 1998.2 3096.8 1993.8C3092.4 1989.3 3087.8 1985.2 3083.1 1981.2C3078.3 1977.3 3073.3 1973.6 3068.2 1970.1C3063.1 1966.5 3057.7 1963.4 3052.4 1960.1C3047 1956.8 3041.4 1953.7 3035.9 1950.4C3030.4 1947 3024.6 1943.7 3019.2 1940.2C3013.8 1936.7 3008.6 1933.1 3003.5 1929.4C2998.5 1925.8 2993.9 1921.9 2988.9 1918.3C2983.9 1914.7 2978.9 1911 2973.5 1907.7C2968.1 1904.5 2962.2 1901.2 2956.5 1898.8C2950.8 1896.4 2945 1894.8 2939.2 1893.4C2933.4 1892.1 2927.7 1891.3 2921.9 1890.7C2916.1 1890 2910.3 1889.8 2904.4 1889.5C2898.5 1889.2 2892.3 1889.1 2886.4 1888.9C2880.5 1888.6 2874.8 1888.3 2869.1 1887.9C2863.4 1887.5 2857.9 1887 2852.2 1886.5C2846.6 1886 2840.8 1885.4 2835.1 1884.8C2829.4 1884.3 2823.9 1883.6 2818.1 1883.2C2812.2 1882.8 2806.1 1882.5 2799.8 1882.4C2793.6 1882.2 2786.9 1882.2 2780.6 1882.2C2774.2 1882.3 2767.7 1882.4 2761.7 1882.7C2755.7 1883 2750.3 1883.4 2744.7 1883.9C2739 1884.4 2733.4 1885 2727.8 1885.7C2722.2 1886.3 2716.7 1887 2711.1 1887.8C2705.6 1888.5 2700 1889.4 2694.4 1890.3C2688.9 1891.1 2683.3 1892.1 2677.8 1893.1C2672.2 1894 2666.7 1895 2661.1 1896C2655.6 1896.9 2650 1897.9 2644.4 1898.8C2638.9 1899.7 2633.3 1900.6 2627.8 1901.5C2622.2 1902.3 2616.7 1903.1 2611.1 1903.9C2605.6 1904.8 2600 1905.7 2594.4 1906.7C2588.9 1907.7 2583.3 1908.8 2577.8 1910C2572.2 1911.1 2566.7 1912.4 2561.1 1913.8C2555.6 1915.1 2550 1916.6 2544.4 1918.1C2538.8 1919.5 2533.2 1921 2527.5 1922.4C2521.9 1923.8 2516.1 1925.2 2510.5 1926.5C2504.9 1927.8 2499.5 1929.2 2494.1 1930.3C2488.7 1931.4 2483.5 1932.4 2478.2 1933.2C2472.8 1933.9 2467.5 1934.4 2462.1 1934.6C2456.7 1934.8 2451.2 1934.8 2445.8 1934.4C2440.4 1933.9 2435.1 1933.3 2429.7 1932.2C2424.2 1931.1 2418.8 1929.8 2413 1928C2407.2 1926.1 2400.7 1923.7 2394.9 1921.1C2389.1 1918.5 2383.5 1915.5 2378.2 1912.3C2372.9 1909.2 2368.1 1905.8 2363.2 1902.2C2358.2 1898.7 2353.2 1894.4 2348.5 1890.8C2343.8 1887.3 2339.8 1883.9 2335.1 1880.8C2330.4 1877.7 2325.6 1874.8 2320.4 1872.2C2315.2 1869.6 2309.6 1867.5 2303.7 1865.1C2297.9 1862.8 2291.5 1860.6 2285.5 1858.2C2279.4 1855.7 2273.4 1853.2 2267.6 1850.5C2261.7 1847.8 2255.9 1844.8 2250.3 1842C2244.8 1839.2 2239.7 1836.5 2234.3 1833.9C2229 1831.4 2222.7 1828.7 2218.3 1826.8C2213.9 1824.9 2212.3 1824.4 2208.1 1822.6Z"/><path d="M1379.3 3563.4C1385 3561.7 1390.4 3559.8 1396 3557.9C1401.5 3556.1 1407.1 3554 1412.6 3552.1C1418.1 3550.2 1423.5 3548.2 1428.9 3546.3C1434.2 3544.4 1439.5 3542.5 1444.8 3540.6C1450 3538.7 1455 3536.8 1460.4 3534.9C1465.7 3532.9 1471.3 3530.8 1476.8 3528.7C1482.3 3526.7 1487.8 3524.6 1493.3 3522.5C1498.9 3520.3 1504.4 3518.1 1510 3515.9C1515.6 3513.7 1521.1 3511.5 1526.7 3509.2C1532.3 3506.9 1537.8 3504.5 1543.4 3502.2C1548.9 3499.8 1554.5 3497.4 1560 3495C1565.6 3492.5 1571.3 3490 1576.8 3487.5C1582.3 3485 1587.9 3482.5 1593.1 3480.1C1598.4 3477.6 1603.4 3475.3 1608.5 3472.9C1613.5 3470.5 1618.4 3468.2 1623.4 3465.7C1628.4 3463.2 1633.4 3460.6 1638.5 3457.9C1643.5 3455.3 1648.5 3452.6 1653.7 3449.8C1658.9 3446.9 1664.4 3443.9 1669.6 3440.9C1674.7 3438 1679.9 3435 1684.9 3432.2C1689.8 3429.3 1694.5 3426.5 1699.3 3423.6C1704 3420.8 1708.6 3417.9 1713.2 3415.1C1717.8 3412.3 1722.3 3409.4 1727 3406.6C1731.6 3403.7 1736.2 3401 1740.9 3398C1745.7 3395.1 1750.6 3392 1755.6 3388.8C1760.5 3385.7 1765.6 3382.4 1770.6 3379.1C1775.6 3375.8 1780.3 3372.7 1785.5 3369.1C1790.6 3365.6 1796 3361.7 1801.3 3357.8C1806.7 3354 1812.3 3349.9 1817.7 3346C1823 3342.1 1828.5 3338.1 1833.4 3334.4C1838.3 3330.6 1842.5 3327.2 1847.1 3323.4C1851.7 3319.5 1856.4 3315.4 1860.9 3311.5C1865.5 3307.5 1870 3303.5 1874.5 3299.5C1879 3295.5 1883.4 3291.7 1887.9 3287.6C1892.5 3283.5 1897.2 3279.2 1901.6 3274.9C1905.9 3270.5 1910.3 3265.9 1914.2 3261.3C1918.1 3256.8 1921.8 3252.1 1925.2 3247.5C1928.5 3242.9 1931.6 3238.4 1934.5 3233.7C1937.4 3229 1940.1 3224.4 1942.5 3219.1C1944.9 3213.8 1947.2 3207.7 1948.7 3201.9C1950.1 3196.1 1951 3190.2 1951.2 3184.3C1951.5 3178.3 1951.1 3171.9 1950 3166.1C1948.8 3160.3 1946.8 3155 1944.3 3149.6C1941.8 3144.2 1938 3138.8 1934.9 3133.7C1931.7 3128.6 1928.6 3124.4 1925.3 3119.2C1922 3114.1 1917.3 3108.3 1915 3103C1912.7 3097.7 1910.4 3092.2 1911.5 3087.6C1912.6 3083 1917.4 3079.1 1921.6 3075.4C1925.9 3071.7 1932 3068.3 1937.2 3065.6C1942.4 3062.9 1947.5 3061.2 1953 3059.2C1958.4 3057.3 1964.1 3055.8 1969.7 3054.1C1975.4 3052.4 1981 3050.7 1986.7 3049C1992.5 3047.4 1998.4 3045.7 2004.1 3044.1C2009.9 3042.6 2015.6 3041.1 2021.3 3039.7C2027 3038.2 2032.6 3036.9 2038.3 3035.4C2044 3034 2049.7 3032.5 2055.4 3031.1C2061 3029.6 2066.6 3028.1 2072.2 3026.5C2077.9 3025 2083.6 3023.3 2089.3 3021.7C2095 3020 2100.6 3018.2 2106.2 3016.4C2111.9 3014.6 2117.5 3012.8 2123.1 3010.9C2128.8 3009 2134.4 3007 2140 3005C2145.7 3002.9 2151.4 3000.8 2157.1 2998.7C2162.7 2996.5 2168.4 2994.4 2174 2992C2179.7 2989.7 2185.3 2987.3 2190.9 2984.8C2196.5 2982.2 2202.2 2979.4 2207.8 2976.6C2213.4 2973.8 2219.1 2970.7 2224.4 2967.8C2229.7 2964.8 2234.6 2962 2239.7 2959.1C2244.8 2956.1 2249.8 2953.1 2254.8 2949.9C2259.8 2946.7 2264.9 2943.4 2269.7 2940.1C2274.5 2936.8 2279.1 2933.4 2283.7 2930C2288.4 2926.5 2293 2922.9 2297.5 2919.3C2302 2915.8 2306.4 2912.2 2310.8 2908.5C2315.2 2904.8 2319.6 2901.1 2323.9 2897.3C2328.2 2893.5 2332.5 2889.6 2336.7 2885.7C2340.8 2881.8 2344.7 2878 2348.7 2873.8C2352.7 2869.7 2356.7 2865.2 2360.6 2860.7C2364.5 2856.2 2368.3 2851.4 2372 2846.7C2375.7 2841.9 2379.1 2837.2 2382.6 2832.1C2386.1 2827.1 2389.7 2821.8 2392.9 2816.5C2396.1 2811.2 2399.2 2805.9 2402.1 2800.4C2404.9 2794.9 2407.5 2789.2 2409.8 2783.5C2412.2 2777.8 2414.3 2772 2416.3 2766.2C2418.3 2760.4 2420.1 2754.6 2421.7 2748.8C2423.4 2743 2424.9 2737.1 2426.1 2731.2C2427.4 2725.3 2428.5 2719.5 2429.3 2713.6C2430.1 2707.6 2430.7 2701.6 2431.1 2695.6C2431.4 2689.5 2431.7 2683.4 2431.5 2677.3C2431.3 2671.1 2430.8 2664.9 2429.8 2658.7C2428.9 2652.5 2427.4 2646.2 2425.8 2640C2424.1 2633.8 2422 2627.3 2419.8 2621.5C2417.6 2615.7 2415.1 2610.3 2412.6 2605.1C2410.2 2599.8 2407.5 2595 2405.1 2590C2402.7 2584.9 2400.2 2580 2398.1 2574.8C2396 2569.7 2394 2564.5 2392.5 2559.1C2391.1 2553.7 2389.9 2548.1 2389.3 2542.5C2388.7 2536.9 2388.5 2531.4 2388.9 2525.6C2389.2 2519.8 2390.1 2513.5 2391.6 2507.6C2393 2501.7 2395.2 2495.6 2397.7 2490.2C2400.2 2484.7 2403.5 2479.6 2406.6 2475C2409.8 2470.4 2413 2466.5 2416.8 2462.5C2420.6 2458.5 2424.9 2454.6 2429.3 2450.8C2433.6 2446.9 2438 2443.3 2442.7 2439.4C2447.4 2435.5 2452.5 2431.3 2457.4 2427.4C2462.3 2423.4 2467 2419.6 2471.9 2415.7C2476.8 2411.9 2481.9 2407.8 2486.8 2404C2491.7 2400.3 2496.5 2396.7 2501.3 2393.4C2506.1 2390 2510.8 2386.9 2515.7 2383.9C2520.5 2380.9 2525.5 2378.1 2530.7 2375.4C2535.9 2372.7 2541.3 2370.1 2546.9 2367.7C2552.5 2365.2 2558.4 2362.8 2564.3 2360.5C2570.1 2358.2 2576.1 2356 2582 2353.9C2588 2351.8 2594.2 2349.8 2599.9 2347.9C2605.7 2345.9 2611.2 2344.2 2616.5 2342.2C2621.9 2340.2 2626.8 2338.2 2632.1 2336C2637.3 2333.8 2642.7 2331.4 2648.3 2328.8C2653.9 2326.1 2660.1 2323.2 2665.8 2320.1C2671.5 2317 2677.4 2313.5 2682.7 2310.3C2687.9 2307 2692.6 2303.8 2697.3 2300.6C2702.1 2297.3 2706.6 2294 2711.3 2290.7C2715.9 2287.3 2720.5 2283.8 2725.1 2280.3C2729.7 2276.8 2734.3 2273.2 2738.8 2269.6C2743.4 2266 2747.8 2262.3 2752.4 2258.5C2757 2254.8 2761.7 2250.8 2766.3 2246.9C2770.9 2243 2775.5 2239 2779.9 2235C2784.2 2231 2788.2 2227.1 2792.3 2222.9C2796.4 2218.8 2800.4 2214.5 2804.4 2209.8C2808.5 2205.1 2812.8 2200 2816.5 2194.8C2820.2 2189.6 2823.9 2184.1 2826.7 2178.8C2829.6 2173.5 2831.9 2168.6 2833.7 2163.2C2835.4 2157.7 2836.8 2152.2 2837.2 2146.1C2837.7 2140.1 2837.4 2133.1 2836.5 2127C2835.6 2120.9 2833.9 2115.2 2832.1 2109.6C2830.3 2104.1 2828.2 2098.8 2825.6 2093.8C2823 2088.8 2820.1 2084.1 2816.4 2079.5C2812.7 2074.8 2808.3 2070 2803.5 2065.8C2798.7 2061.6 2793.1 2057.6 2787.5 2054.1C2781.9 2050.7 2775.9 2047.8 2770.1 2045.3C2764.3 2042.9 2758.4 2040.9 2752.8 2039.2C2747.1 2037.5 2741.8 2036.3 2736.2 2035.1C2730.6 2034 2725.3 2033.2 2719.3 2032.4C2713.3 2031.6 2706.5 2030.9 2700.1 2030.5C2693.7 2030.1 2687.3 2029.8 2681 2029.8C2674.6 2029.8 2668.1 2030.1 2661.8 2030.4C2655.6 2030.8 2650 2031.3 2643.7 2032C2637.3 2032.6 2630 2033.4 2623.7 2034.1C2617.3 2034.9 2611.3 2035.6 2605.4 2036.4C2599.4 2037.1 2594 2037.9 2588.1 2038.7C2582.2 2039.5 2576.1 2040.4 2570 2041.3C2564 2042.2 2558 2043.1 2552 2044.1C2545.9 2045 2540 2046 2533.9 2047C2527.8 2048 2521.5 2049.1 2515.4 2050.2C2509.3 2051.2 2503.1 2052.3 2497.3 2053.4C2491.5 2054.5 2486.3 2055.4 2480.6 2056.6C2474.9 2057.8 2468.6 2059.1 2463 2060.5C2457.3 2061.8 2451.9 2063.2 2446.5 2064.6C2441 2066.1 2435.8 2067.5 2430.2 2069C2424.7 2070.6 2418.8 2072.1 2413.1 2073.8C2407.4 2075.4 2401.7 2077.2 2396 2079.1C2390.3 2081.1 2384.6 2083.2 2378.9 2085.4C2373.1 2087.7 2367.4 2090.1 2361.7 2092.5C2356 2095 2350.3 2097.6 2344.6 2100.4C2338.9 2103.1 2333 2106 2327.5 2108.9C2321.9 2111.8 2316.4 2114.9 2311.1 2117.9C2305.8 2120.9 2300.8 2123.9 2295.7 2127.1C2290.7 2130.3 2285.8 2133.4 2280.8 2136.8C2275.7 2140.3 2270.6 2143.9 2265.6 2147.7C2260.5 2151.5 2255.4 2155.4 2250.6 2159.4C2245.8 2163.5 2241.1 2167.6 2236.5 2171.8C2232 2176 2227.6 2180.3 2223.4 2184.7C2219.1 2189 2215 2193.3 2210.8 2197.8C2206.5 2202.3 2202.2 2207.2 2198 2211.7C2193.8 2216.3 2189.8 2220.8 2185.7 2225.1C2181.7 2229.4 2177.6 2233.3 2173.5 2237.6C2169.4 2241.8 2165.6 2246 2161.2 2250.4C2156.9 2254.8 2152.2 2259.8 2147.4 2264C2142.6 2268.2 2137.3 2272 2132.3 2275.6C2127.2 2279.3 2122.1 2282.7 2117 2285.9C2112 2289.1 2107 2292.1 2102 2294.9C2097 2297.7 2092 2300.4 2087 2303C2082 2305.5 2077 2307.9 2072 2310.2C2067 2312.4 2062.2 2314.5 2056.8 2316.6C2051.4 2318.7 2045.5 2320.8 2039.6 2322.8C2033.8 2324.8 2027.5 2326.8 2021.4 2328.5C2015.4 2330.3 2009.4 2331.8 2003.4 2333.4C1997.5 2334.9 1991.7 2336.2 1985.8 2337.6C1979.9 2339 1974 2340.2 1968.2 2341.6C1962.3 2342.9 1956.5 2344.3 1950.7 2345.7C1944.9 2347.1 1939.1 2348.5 1933.3 2350C1927.5 2351.6 1921.7 2353.2 1915.8 2354.9C1910 2356.7 1904.1 2358.6 1898.2 2360.6C1892.3 2362.6 1886.5 2364.6 1880.6 2366.9C1874.7 2369.2 1868.5 2371.5 1862.8 2374.5C1857.1 2377.4 1851.7 2381.1 1846.5 2384.6C1841.2 2388 1836.5 2392 1831.4 2395.3C1826.4 2398.6 1821.3 2401.3 1816.2 2404.5C1811.2 2407.6 1806.1 2410.9 1801.1 2414.4C1796.1 2418 1790.9 2422.1 1786.1 2425.9C1781.2 2429.8 1776.6 2433.9 1772.2 2437.7C1767.9 2441.6 1764 2445.2 1760 2449.2C1756 2453.1 1751.9 2457 1747.9 2461.2C1744 2465.5 1740 2469.8 1736.1 2474.5C1732.3 2479.2 1728.7 2484.3 1725 2489.3C1721.3 2494.3 1717.7 2499.6 1714 2504.6C1710.3 2509.6 1706.4 2514.5 1702.8 2519.4C1699.2 2524.4 1695.5 2529.4 1692.1 2534.3C1688.8 2539.1 1685.8 2543.7 1682.6 2548.5C1679.5 2553.2 1676.4 2558 1673.1 2562.9C1669.8 2567.7 1666.4 2572.7 1663 2577.7C1659.5 2582.6 1656 2587.7 1652.4 2592.5C1648.8 2597.4 1645.2 2602.2 1641.5 2606.8C1637.9 2611.4 1634.3 2615.7 1630.5 2620.1C1626.8 2624.5 1622.9 2628.9 1618.9 2633.2C1614.9 2637.5 1610.8 2641.7 1606.5 2645.8C1602.2 2649.9 1597.7 2654 1593.3 2658C1588.9 2662 1584.4 2666 1580 2670C1575.6 2673.9 1571.3 2677.7 1566.9 2681.6C1562.5 2685.5 1558.1 2689.2 1553.8 2693.1C1549.4 2697.1 1545 2701.1 1540.6 2705.1C1536.3 2709.2 1531.9 2713.4 1527.5 2717.7C1523.1 2721.9 1518.7 2726.3 1514.5 2730.5C1510.2 2734.8 1506.2 2738.9 1502.1 2743.1C1498.1 2747.3 1494.2 2751.4 1490.3 2755.7C1486.3 2759.9 1482.5 2764 1478.7 2768.4C1474.8 2772.8 1470.9 2777.4 1467.1 2782C1463.3 2786.6 1459.5 2791.4 1455.7 2796.1C1452 2800.8 1448.5 2805.4 1444.8 2810.3C1441.2 2815.2 1437.4 2820.4 1433.8 2825.4C1430.2 2830.4 1426.7 2835.3 1423.3 2840.3C1419.8 2845.2 1416.4 2850.2 1413.1 2855.2C1409.7 2860.1 1406.5 2865 1403.2 2870.1C1399.9 2875.2 1396.7 2880.6 1393.3 2886C1390 2891.4 1386.8 2897 1383.2 2902.4C1379.6 2907.7 1375.6 2913.2 1371.8 2918.2C1367.9 2923.2 1363.9 2928.1 1360.1 2932.4C1356.2 2936.7 1353.1 2940.7 1348.6 2944C1344.1 2947.3 1338.7 2950 1333 2952.1C1327.3 2954.2 1320.6 2955.5 1314.5 2956.6C1308.4 2957.7 1302.4 2958 1296.4 2958.5C1290.4 2959 1284.5 2959.2 1278.6 2959.5C1272.7 2959.9 1266.8 2960.1 1260.9 2960.6C1255.1 2961.1 1249.2 2961.9 1243.3 2962.8C1237.5 2963.7 1231.7 2964.9 1225.8 2966.2C1220 2967.6 1214.2 2969.1 1208.3 2970.9C1202.5 2972.7 1196.7 2974.7 1190.8 2976.9C1185 2979.1 1179 2981.6 1173.2 2984.3C1167.3 2986.9 1161.4 2989.9 1155.7 2993C1150.1 2996.1 1144.6 2999.6 1139.4 3003.1C1134.2 3006.6 1129.4 3010.3 1124.4 3014.2C1119.4 3018.1 1114.1 3022.3 1109.5 3026.4C1104.8 3030.6 1100.6 3034.9 1096.5 3039.3C1092.4 3043.6 1089.1 3048 1085.1 3052.3C1081.1 3056.6 1076.9 3060.7 1072.7 3065C1068.5 3069.3 1064.1 3073.6 1059.9 3078C1055.8 3082.4 1051.6 3086.9 1047.7 3091.4C1043.8 3095.8 1040.1 3100.3 1036.4 3104.8C1032.7 3109.3 1029.3 3113.7 1025.8 3118.5C1022.2 3123.2 1018.5 3128.2 1014.9 3133.3C1011.4 3138.4 1007.8 3143.7 1004.6 3148.8C1001.3 3154 998.4 3158.9 995.4 3164.1C992.3 3169.4 989.1 3174.9 986.2 3180.2C983.2 3185.6 980.3 3191 977.6 3196.3C974.8 3201.5 972.4 3206.2 969.9 3211.7C967.4 3217.2 964.9 3223.1 962.4 3229.1C959.9 3235.1 957.4 3241.5 955 3247.8C952.5 3254 949.9 3260.3 947.6 3266.6C945.3 3272.8 943 3279.4 940.9 3285.2C938.8 3291.1 936.8 3296.3 934.9 3301.7C932.9 3307.2 930.9 3312.1 929.2 3317.8C927.5 3323.5 925.9 3329.8 924.7 3336C923.5 3342.2 922.8 3348.6 922.1 3354.9C921.4 3361.2 920.7 3367.5 920.5 3373.7C920.2 3380 920.2 3386.2 920.5 3392.5C920.8 3398.8 921.4 3405 922.2 3411.2C923.1 3417.5 924.3 3423.7 925.7 3430C927.1 3436.2 929 3442.5 930.7 3448.8C932.4 3455 934.3 3461.2 936 3467.5C937.7 3473.8 939.4 3480.1 940.9 3486.4C942.4 3492.7 943.7 3499 945 3505.5C946.3 3511.9 947.5 3518.5 948.7 3525.1C949.9 3531.7 950.8 3538.3 952.1 3545C953.4 3551.7 954.8 3558.5 956.5 3565C958.2 3571.5 960.2 3578.3 962.5 3584C964.7 3589.6 967 3594.4 969.9 3599.1C972.8 3603.8 976 3608.1 979.7 3612.1C983.5 3616.1 987.8 3619.8 992.4 3622.9C997.1 3626.1 1002.4 3628.7 1007.7 3630.9C1013.1 3633 1018.7 3634.6 1024.6 3635.7C1030.5 3636.8 1037.1 3637.3 1043.1 3637.4C1049.2 3637.5 1055.1 3637 1061 3636.4C1067 3635.8 1072.7 3634.8 1078.7 3633.8C1084.7 3632.7 1091 3631.3 1096.9 3630.2C1102.7 3629 1108.1 3627.9 1113.8 3626.8C1119.5 3625.6 1125.1 3624.5 1131 3623.2C1136.8 3622 1142.9 3620.6 1148.9 3619.3C1154.9 3618 1161 3616.6 1167 3615.3C1173 3614 1179 3612.6 1185 3611.3C1191 3610 1197 3608.8 1203 3607.5C1209 3606.2 1215 3605 1221 3603.6C1227 3602.3 1233 3600.9 1239 3599.4C1245 3598 1251 3596.4 1257 3594.8C1263 3593.3 1269 3591.6 1275.1 3590C1281.1 3588.4 1287.1 3586.8 1293.3 3585.1C1299.4 3583.5 1305.7 3581.7 1311.8 3580.1C1317.8 3578.4 1324 3576.7 1329.6 3575.4C1335.3 3574.1 1340.1 3573.5 1345.5 3572.4C1350.8 3571.2 1356 3570 1361.7 3568.5C1367.3 3567 1373.6 3565.2 1379.3 3563.4Z"/><path d="M1379.7 3544.8C1383.8 3543.7 1391.8 3541.5 1398 3539.6C1404.2 3537.7 1410.5 3535.4 1416.7 3533.3C1422.8 3531.1 1429.1 3528.9 1435.2 3526.7C1441.2 3524.5 1447.3 3522.2 1453.1 3520C1459 3517.8 1464.6 3515.6 1470.2 3513.4C1475.8 3511.2 1481.2 3508.9 1486.7 3506.7C1492.3 3504.4 1497.8 3502 1503.4 3499.7C1508.9 3497.3 1514.5 3494.9 1520 3492.5C1525.5 3490 1531.1 3487.6 1536.6 3485.1C1542.2 3482.6 1547.8 3480 1553.3 3477.5C1558.9 3474.9 1564.6 3472.2 1570.2 3469.6C1575.7 3467 1581.2 3464.3 1586.5 3461.8C1591.8 3459.2 1596.6 3456.9 1601.7 3454.3C1606.8 3451.8 1611.7 3449.3 1616.9 3446.5C1622.2 3443.7 1627.9 3440.7 1633.4 3437.7C1638.8 3434.6 1644.5 3431.4 1649.9 3428.3C1655.2 3425.2 1660.4 3422.1 1665.4 3419C1670.5 3415.9 1675.3 3412.9 1680.2 3409.8C1685.1 3406.7 1689.9 3403.6 1694.7 3400.4C1699.4 3397.3 1704 3394.2 1708.6 3391C1713.2 3387.8 1717.8 3384.5 1722.4 3381.3C1727.1 3378 1731.8 3374.7 1736.5 3371.3C1741.3 3367.9 1746.1 3364.5 1751.1 3361C1756 3357.5 1760.9 3353.9 1766 3350.3C1771 3346.6 1776.2 3342.9 1781.2 3339.1C1786.3 3335.3 1791.5 3331.4 1796.3 3327.7C1801.1 3323.9 1805.5 3320.6 1809.9 3316.8C1814.3 3313 1818.5 3309.1 1822.7 3304.8C1827 3300.5 1831.4 3295.5 1835.3 3290.8C1839.2 3286.1 1842.5 3281.7 1846.1 3276.8C1849.6 3272 1853.3 3267 1856.5 3261.8C1859.7 3256.6 1862.7 3251.3 1865.3 3245.7C1867.8 3240.2 1870.2 3234.2 1871.8 3228.3C1873.4 3222.5 1874.6 3216.4 1874.8 3210.8C1874.9 3205.3 1874.3 3200.2 1872.8 3194.8C1871.2 3189.5 1868.7 3183.6 1865.5 3178.8C1862.3 3174 1857.9 3169.7 1853.6 3165.8C1849.3 3162 1844.4 3158.9 1839.6 3155.7C1834.7 3152.5 1829.6 3149.3 1824.5 3146.5C1819.5 3143.8 1814.6 3141.6 1809.4 3139.3C1804.2 3137.1 1798.9 3135.1 1793.3 3133.2C1787.8 3131.3 1781.9 3129.4 1775.9 3127.9C1769.9 3126.3 1763.7 3125.2 1757.6 3124.1C1751.4 3123 1745.1 3122.2 1738.9 3121.4C1732.6 3120.5 1726.3 3119.8 1720.1 3119C1714 3118.2 1708 3117.6 1702 3116.7C1695.9 3115.8 1689.9 3114.9 1683.8 3113.7C1677.8 3112.5 1671.7 3111.2 1665.6 3109.7C1659.6 3108.2 1653.1 3107 1647.8 3104.5C1642.5 3102 1637.4 3098.9 1633.7 3094.6C1630.1 3090.3 1627.6 3084.2 1625.8 3078.6C1624.1 3072.9 1623 3066.5 1623.2 3060.9C1623.3 3055.2 1624.8 3049.8 1626.7 3044.4C1628.6 3039 1631.3 3033.5 1634.3 3028.4C1637.3 3023.3 1641 3018.4 1644.7 3013.9C1648.5 3009.5 1652.6 3005.7 1656.8 3001.7C1661 2997.7 1665.5 2993.8 1669.9 2990.1C1674.3 2986.3 1678.9 2982.6 1683.4 2979.2C1687.9 2975.9 1692.3 2972.8 1696.9 2969.8C1701.5 2966.8 1706.2 2964 1711 2961.1C1715.9 2958.3 1721 2955.5 1726.2 2952.8C1731.4 2950.1 1736.9 2947.3 1742.4 2945C1747.9 2942.6 1753.4 2940.3 1759.1 2938.8C1764.7 2937.3 1770.3 2936 1776.2 2935.8C1782 2935.6 1788.4 2936.1 1794.2 2937.6C1800.1 2939.2 1806 2942.2 1811.5 2945.2C1817 2948.3 1822.2 2952.3 1827.4 2955.8C1832.7 2959.4 1837.8 2963.2 1843 2966.6C1848.3 2970 1853.5 2973.1 1858.9 2976.2C1864.3 2979.3 1869.9 2982.2 1875.3 2984.9C1880.8 2987.7 1886.1 2990.4 1891.6 2992.7C1897.1 2995 1902.6 2997.2 1908.3 2998.7C1913.9 3000.2 1919.6 3001.1 1925.5 3001.7C1931.3 3002.2 1937.4 3002.1 1943.3 3002.1C1949.2 3002.1 1955 3001.9 1960.9 3001.6C1966.7 3001.4 1972.5 3001.2 1978.3 3000.8C1984.1 3000.4 1989.9 3000 1995.7 2999.4C2001.5 2998.8 2007.1 2998.2 2012.9 2997.4C2018.6 2996.7 2024.3 2995.8 2030 2994.9C2035.7 2994 2041.4 2993.1 2047.1 2992C2052.9 2991 2058.6 2989.9 2064.3 2988.7C2070 2987.5 2075.8 2986.2 2081.6 2984.8C2087.3 2983.5 2093.1 2982.1 2098.9 2980.5C2104.6 2979 2110.3 2977.3 2116.1 2975.5C2121.9 2973.6 2127.7 2971.6 2133.5 2969.4C2139.3 2967.2 2145.1 2964.9 2150.8 2962.5C2156.6 2960 2162.6 2957.3 2168.3 2954.6C2174 2952 2179.5 2949.2 2184.8 2946.5C2190.1 2943.8 2195 2941.3 2200 2938.5C2205 2935.8 2210 2932.9 2215 2929.8C2220.1 2926.8 2225.2 2923.5 2230.2 2920.1C2235.2 2916.7 2240.3 2913.1 2245.1 2909.6C2249.9 2906 2254.5 2902.4 2259 2898.7C2263.4 2895 2267.6 2891.4 2271.9 2887.5C2276.1 2883.6 2280.3 2879.6 2284.5 2875.4C2288.7 2871.1 2293.1 2866.5 2297.1 2861.8C2301.1 2857.2 2304.9 2852.4 2308.5 2847.5C2312.2 2842.7 2315.6 2837.6 2318.8 2832.6C2321.9 2827.6 2324.9 2822.5 2327.5 2817.5C2330.2 2812.5 2332.6 2807.7 2334.8 2802.4C2337 2797.2 2339.1 2791.9 2341 2786.2C2342.8 2780.6 2344.6 2774.3 2346 2768.5C2347.4 2762.7 2348.5 2757 2349.3 2751.3C2350.1 2745.6 2350.7 2740.3 2350.7 2734.4C2350.8 2728.6 2350.6 2722.3 2349.6 2716.1C2348.6 2710 2347.1 2703.4 2344.9 2697.4C2342.6 2691.3 2339.7 2685.3 2336.4 2679.9C2333 2674.6 2329 2669.8 2324.7 2665.3C2320.3 2660.8 2315.2 2656.6 2310.4 2653.1C2305.6 2649.5 2300.7 2646.6 2295.6 2643.8C2290.6 2641 2285.5 2638.6 2280.1 2636.1C2274.7 2633.6 2269 2631.1 2263.2 2628.6C2257.4 2626.1 2251.2 2623.6 2245.3 2621.2C2239.5 2618.8 2233.7 2616.5 2227.9 2614.3C2222.1 2612.1 2216.4 2609.9 2210.5 2608C2204.7 2606.1 2198.7 2604.3 2192.9 2602.8C2187 2601.2 2181.3 2600 2175.4 2598.7C2169.6 2597.4 2163.7 2596 2157.8 2594.9C2151.8 2593.7 2145.9 2592.5 2140 2591.7C2134.1 2590.9 2128.4 2590.3 2122.3 2589.8C2116.3 2589.4 2110.1 2589.1 2103.8 2588.8C2097.5 2588.5 2091 2588.5 2084.6 2588.1C2078.2 2587.7 2071.5 2587.5 2065.3 2586.3C2059.2 2585.1 2052.7 2583.7 2047.6 2580.7C2042.6 2577.7 2038.6 2572.8 2034.9 2568.3C2031.3 2563.8 2028.7 2558.7 2025.7 2553.7C2022.8 2548.8 2020 2543.7 2017.2 2538.8C2014.3 2533.9 2011.8 2528.9 2008.6 2524.3C2005.5 2519.6 2002.2 2515 1998.3 2510.9C1994.4 2506.8 1989.8 2502.9 1985.1 2499.7C1980.5 2496.5 1975.6 2493.9 1970.5 2491.7C1965.3 2489.5 1959.8 2487.7 1954.1 2486.3C1948.3 2484.9 1942.1 2483.9 1936.1 2483.3C1930 2482.7 1923.8 2482.5 1917.7 2482.7C1911.7 2482.9 1905.7 2483.4 1899.8 2484.3C1893.9 2485.2 1888.2 2486.5 1882.6 2488C1876.9 2489.5 1871.6 2491.4 1866 2493.3C1860.3 2495.2 1854.4 2497.2 1848.6 2499.2C1842.8 2501.3 1836.5 2503.2 1831 2505.4C1825.4 2507.6 1820.3 2509.6 1815.4 2512.3C1810.5 2515.1 1806.1 2518.2 1801.7 2521.6C1797.3 2525.1 1793.2 2529.1 1789.3 2533.2C1785.3 2537.3 1781.6 2541.6 1777.9 2546.1C1774.2 2550.6 1770.7 2555.4 1767.2 2560.1C1763.7 2564.9 1760.2 2569.8 1757 2574.5C1753.7 2579.3 1750.7 2584.1 1747.5 2588.9C1744.3 2593.6 1741.3 2598.4 1738 2603C1734.8 2607.6 1731.4 2612.2 1728 2616.6C1724.5 2621 1721.1 2625.3 1717.4 2629.4C1713.7 2633.5 1709.9 2637.5 1705.9 2641.3C1701.9 2645.1 1697.7 2648.8 1693.4 2652.3C1689 2655.8 1684.5 2659.2 1679.8 2662.4C1675.2 2665.6 1670.2 2668.6 1665.3 2671.5C1660.3 2674.4 1655.1 2677.1 1650.1 2679.8C1645 2682.5 1640 2685 1635 2687.5C1630 2690.1 1625 2692.4 1620 2695C1615 2697.5 1610 2700 1605 2702.7C1600 2705.4 1595 2708.1 1590 2711C1585 2713.9 1580 2716.9 1575 2720.2C1569.9 2723.4 1564.8 2726.8 1559.8 2730.3C1554.8 2733.9 1549.7 2737.6 1544.9 2741.3C1540.1 2745 1535.6 2748.7 1531.2 2752.6C1526.8 2756.4 1522.7 2760.3 1518.4 2764.3C1514.1 2768.4 1509.9 2772.6 1505.6 2777C1501.3 2781.4 1496.8 2786 1492.6 2790.7C1488.3 2795.4 1484.1 2800.2 1480.2 2805.1C1476.2 2809.9 1472.4 2814.9 1468.8 2819.9C1465.2 2824.8 1461.7 2829.9 1458.4 2834.9C1455.1 2839.9 1452 2844.9 1449 2849.8C1446.1 2854.8 1443.4 2859.6 1440.6 2864.8C1437.7 2869.9 1434.9 2875.2 1432.1 2880.7C1429.2 2886.2 1426.3 2892.2 1423.4 2897.9C1420.6 2903.6 1417.8 2909.4 1415.1 2914.9C1412.4 2920.4 1409.9 2925.7 1407.4 2930.8C1404.8 2936 1402.6 2940.8 1399.7 2945.6C1396.9 2950.5 1393.7 2955.3 1390.3 2959.9C1387 2964.4 1383.4 2968.7 1379.8 2972.7C1376.2 2976.7 1372.8 2980.8 1368.7 2983.9C1364.6 2987.1 1360.2 2989.7 1355.3 2991.6C1350.3 2993.5 1344.6 2994.7 1338.7 2995.4C1332.9 2996 1326.3 2996 1320.1 2995.6C1313.9 2995.3 1307.7 2994.3 1301.5 2993.5C1295.4 2992.7 1289.3 2991.7 1283.3 2990.9C1277.2 2990.2 1271.1 2989.5 1265.1 2989.2C1259 2989 1253 2988.9 1247 2989.2C1241 2989.5 1235 2990.1 1229 2991C1223 2991.9 1217 2993.1 1211 2994.6C1205 2996.1 1198.9 2998 1193 3000.2C1187.1 3002.3 1181.1 3004.9 1175.5 3007.5C1170 3010.1 1164.9 3012.9 1159.8 3015.9C1154.6 3018.9 1149.7 3021.9 1144.7 3025.5C1139.7 3029 1134.6 3033 1129.6 3037.1C1124.5 3041.1 1119.6 3045.5 1114.6 3049.7C1109.7 3053.9 1104.7 3058.2 1099.8 3062.3C1095 3066.3 1090.2 3069.8 1085.5 3074.1C1080.8 3078.3 1076.2 3083.1 1071.7 3087.8C1067.2 3092.5 1062.7 3097.6 1058.5 3102.4C1054.2 3107.3 1050.3 3112 1046.4 3116.7C1042.6 3121.5 1038.9 3126.3 1035.3 3131C1031.8 3135.7 1028.4 3140.5 1025.1 3145.2C1021.9 3150 1018.8 3154.7 1015.9 3159.5C1012.9 3164.2 1010 3169.1 1007.2 3174C1004.4 3178.9 1001.6 3184 999 3189C996.3 3194 993.7 3199 991.2 3204C988.6 3209 986.2 3214 983.8 3219C981.4 3224 979.2 3228.8 976.9 3234.1C974.6 3239.3 972.2 3244.7 969.9 3250.5C967.5 3256.3 964.9 3262.8 962.6 3269C960.3 3275.2 958 3281.7 955.9 3287.8C953.8 3293.9 951.7 3299.8 949.8 3305.7C947.9 3311.6 945.9 3317.3 944.5 3323.3C943.1 3329.4 942.1 3335.7 941.4 3342C940.8 3348.4 940.5 3354.9 940.4 3361.2C940.3 3367.5 940.3 3373.7 940.7 3380C941.2 3386.3 941.9 3392.5 942.9 3398.8C943.9 3405 945.3 3411.4 946.8 3417.6C948.3 3423.7 950.1 3429.8 951.9 3435.6C953.7 3441.4 955.7 3446.9 957.4 3452.6C959.1 3458.3 960.7 3463.7 962.3 3469.7C963.8 3475.7 965.2 3482 966.6 3488.5C968 3494.9 969.4 3501.7 970.7 3508.4C971.9 3515 973 3521.9 974.4 3528.3C975.7 3534.6 976.8 3540.7 978.6 3546.7C980.4 3552.7 982.4 3558.6 985 3564.1C987.6 3569.7 990.7 3575.2 994.2 3579.9C997.7 3584.6 1001.4 3588.8 1005.9 3592.5C1010.5 3596.2 1015.9 3599.3 1021.4 3602C1026.8 3604.6 1032.8 3606.8 1038.5 3608.3C1044.2 3609.9 1049.8 3610.8 1055.5 3611.1C1061.2 3611.4 1066.8 3610.9 1072.7 3610.3C1078.6 3609.7 1085 3608.5 1090.9 3607.5C1096.8 3606.4 1102.5 3605.2 1108.2 3604.1C1113.9 3602.9 1119.4 3601.7 1125.1 3600.4C1130.9 3599.2 1136.9 3597.8 1142.9 3596.5C1148.9 3595.1 1155 3593.8 1161 3592.5C1167 3591.2 1173 3590 1179 3588.7C1185 3587.5 1191 3586.3 1197 3585C1203 3583.8 1209 3582.5 1215 3581.2C1221 3579.8 1227 3578.3 1233 3576.8C1239 3575.3 1245 3573.8 1251 3572.3C1257 3570.8 1263 3569.3 1269 3567.7C1275.1 3566.2 1281.3 3564.5 1287.3 3562.9C1293.3 3561.2 1299.3 3559.5 1305.2 3558C1311 3556.5 1316.6 3555 1322.2 3553.9C1327.8 3552.7 1333.3 3551.9 1338.9 3551C1344.5 3550.2 1350.1 3549.6 1355.9 3548.8C1361.7 3548 1369.7 3546.7 1373.6 3546.1C1377.6 3545.4 1375.7 3545.8 1379.7 3544.8Z"/><path d="M1430.7 3039.5C1434.5 3036.7 1439.6 3032.5 1442.8 3028.1C1445.9 3023.7 1447.8 3018.4 1449.5 3013.1C1451.1 3007.8 1451.9 3001.9 1452.7 2996.2C1453.5 2990.6 1453.6 2985.2 1454.3 2979.4C1455.1 2973.6 1455.8 2967.6 1457 2961.6C1458.2 2955.5 1459.9 2949.3 1461.8 2943.2C1463.7 2937.1 1466.1 2931 1468.6 2925.1C1471.1 2919.2 1473.8 2913.4 1476.8 2907.8C1479.7 2902.2 1482.9 2896.8 1486.2 2891.5C1489.6 2886.2 1493.4 2880.8 1496.8 2875.9C1500.1 2871 1503.3 2866.4 1506.4 2862.1C1509.5 2857.8 1512 2854.1 1515.3 2850.1C1518.6 2846.1 1522.2 2842 1526.4 2838C1530.7 2834 1535.7 2829.6 1540.6 2826C1545.5 2822.3 1550.6 2819 1555.8 2816C1560.9 2813 1566.1 2810.4 1571.7 2808C1577.4 2805.5 1583.9 2803.1 1589.7 2801.3C1595.6 2799.5 1601.2 2798.1 1606.7 2797.3C1612.2 2796.5 1617.5 2796.1 1622.7 2796.6C1627.9 2797 1633.4 2798 1638.1 2800.2C1642.8 2802.3 1647.4 2805.7 1650.9 2809.6C1654.4 2813.5 1657.5 2818.2 1659.2 2823.6C1660.9 2829 1661.3 2836.1 1661 2842C1660.7 2847.8 1659.2 2853.3 1657.5 2858.6C1655.9 2863.9 1653.6 2868.7 1651.2 2873.7C1648.9 2878.7 1646.3 2883.7 1643.6 2888.5C1640.8 2893.3 1638 2897.8 1634.9 2902.4C1631.7 2907 1628.4 2911.5 1624.7 2916C1621 2920.5 1616.9 2925.1 1612.8 2929.4C1608.8 2933.6 1604.6 2937.6 1600.4 2941.5C1596.2 2945.5 1592.1 2949.1 1587.6 2952.9C1583.1 2956.8 1578.3 2960.8 1573.5 2964.7C1568.6 2968.6 1563.5 2972.6 1558.5 2976.4C1553.5 2980.3 1548.3 2984 1543.4 2987.8C1538.5 2991.6 1533.6 2995.2 1528.9 2999C1524.2 3002.7 1519.8 3006.4 1515.4 3010.2C1510.9 3014 1506.2 3017.7 1502.2 3021.7C1498.2 3025.7 1493.7 3029.1 1491.2 3034.2C1488.7 3039.3 1487.5 3046.2 1487.1 3052.4C1486.8 3058.6 1488.1 3065.1 1489.1 3071.3C1490.2 3077.4 1491.4 3083.9 1493.4 3089.4C1495.4 3094.9 1497.6 3100.1 1501 3104.4C1504.4 3108.7 1509 3111.8 1513.5 3115.2C1518.1 3118.7 1523.2 3122 1528.2 3125C1533.1 3128 1538.1 3130.7 1543.2 3133.4C1548.3 3136 1553.5 3138.5 1559 3140.9C1564.5 3143.3 1570.5 3145.9 1576.4 3147.7C1582.3 3149.6 1588.3 3150.8 1594.3 3151.9C1600.2 3153.1 1606.2 3153.9 1612 3154.7C1617.7 3155.5 1623.2 3156.2 1628.8 3156.9C1634.4 3157.6 1640 3158.3 1645.5 3159C1651.1 3159.7 1656.6 3160.4 1662.2 3161.2C1667.8 3161.9 1673.4 3162.7 1679 3163.6C1684.6 3164.5 1690.4 3165.4 1695.9 3166.4C1701.5 3167.4 1707 3168.4 1712.4 3169.6C1717.8 3170.8 1723 3172 1728.4 3173.7C1733.9 3175.4 1739.6 3177.4 1745.1 3179.8C1750.6 3182.1 1756.3 3184.8 1761.4 3187.7C1766.5 3190.6 1771.3 3193.3 1775.6 3197.1C1779.9 3200.8 1784 3205.2 1787 3210C1790 3214.9 1792.3 3220.6 1793.5 3226.2C1794.7 3231.8 1794.6 3237.9 1794.1 3243.6C1793.6 3249.3 1792.3 3254.8 1790.5 3260.4C1788.7 3266 1786 3271.9 1783.3 3277C1780.6 3282.1 1777.6 3286.6 1774.3 3291.1C1771 3295.7 1767.4 3300.1 1763.5 3304.5C1759.7 3308.9 1755.4 3313.3 1751.2 3317.5C1746.9 3321.7 1742.3 3325.9 1737.8 3329.9C1733.3 3333.9 1728.9 3337.6 1724.2 3341.4C1719.6 3345.2 1714.5 3348.9 1709.7 3352.6C1704.8 3356.3 1699.9 3360 1695 3363.6C1690.1 3367.3 1685.2 3371.1 1680.3 3374.7C1675.4 3378.2 1670.5 3381.5 1665.4 3384.9C1660.4 3388.3 1655.2 3391.6 1649.9 3395C1644.6 3398.3 1639.1 3401.7 1633.7 3405C1628.2 3408.3 1622.5 3411.6 1617.1 3414.7C1611.6 3417.9 1606.5 3420.8 1601.2 3423.7C1595.9 3426.6 1590.6 3429.4 1585.3 3432.2C1580 3434.9 1574.8 3437.6 1569.5 3440.1C1564.3 3442.7 1559 3445.2 1553.8 3447.6C1548.5 3450.1 1543.3 3452.5 1538.1 3454.9C1532.8 3457.3 1527.6 3459.8 1522.4 3462.1C1517.2 3464.5 1511.9 3466.9 1506.7 3469.2C1501.5 3471.5 1496.2 3473.8 1491 3476.1C1485.7 3478.4 1480.5 3480.6 1475.2 3482.8C1470 3485 1464.7 3487.1 1459.4 3489.2C1454.1 3491.3 1448.9 3493.3 1443.6 3495.3C1438.2 3497.4 1432.8 3499.4 1427.2 3501.3C1421.7 3503.3 1415.7 3505.4 1410.3 3507.3C1404.9 3509.2 1400 3511.1 1394.9 3512.7C1389.8 3514.4 1385.2 3516 1379.9 3517.1C1374.5 3518.2 1368.5 3518.8 1362.8 3519.5C1357.1 3520.3 1351.2 3520.7 1345.7 3521.6C1340.2 3522.5 1335.3 3523.7 1329.6 3525.1C1324 3526.4 1317.8 3528 1311.8 3529.6C1305.7 3531.1 1299.4 3532.7 1293.3 3534.2C1287.1 3535.7 1281.1 3537.2 1275.1 3538.7C1269 3540.1 1263 3541.5 1257 3542.8C1251 3544.2 1245 3545.5 1239 3546.8C1233 3548.1 1227 3549.4 1221 3550.7C1215 3552 1209 3553.2 1203 3554.4C1197 3555.6 1191 3556.8 1185 3558C1179 3559.3 1173 3560.6 1167 3561.9C1161 3563.2 1154.9 3564.5 1148.9 3565.7C1142.9 3566.9 1136.8 3568.1 1131 3569.3C1125.1 3570.5 1119.5 3571.7 1113.8 3572.9C1108.1 3574.1 1102.7 3575.3 1096.9 3576.3C1091 3577.4 1084.6 3578.7 1078.7 3579.1C1072.7 3579.4 1066.6 3579.3 1060.9 3578.4C1055.3 3577.5 1049.7 3575.8 1044.8 3573.6C1039.9 3571.5 1035.4 3568.8 1031.3 3565.4C1027.2 3562 1023.6 3558 1020.4 3553.2C1017.1 3548.4 1014.2 3542.3 1011.8 3536.7C1009.4 3531 1007.7 3525.2 1006 3519.2C1004.3 3513.2 1003.1 3507.1 1001.6 3500.8C1000.1 3494.4 998.7 3487.5 997.1 3480.8C995.4 3474.2 993.6 3467.3 991.7 3460.9C989.8 3454.6 987.7 3448.5 985.7 3442.9C983.8 3437.3 981.9 3432.7 979.9 3427.3C978 3421.9 975.8 3416.5 974 3410.7C972.2 3404.9 970.4 3398.7 969 3392.6C967.6 3386.4 966.4 3380 965.6 3373.8C964.7 3367.5 964.2 3361.2 964 3354.9C963.8 3348.6 963.7 3342 964.3 3336.1C965 3330.2 966.5 3324.7 968 3319.4C969.6 3314.1 971.6 3309.6 973.6 3304.3C975.6 3299 977.7 3293.6 980 3287.7C982.3 3281.9 985 3275.3 987.4 3269.1C989.9 3262.9 992.5 3256.3 994.9 3250.5C997.3 3244.7 999.6 3239.3 1001.9 3234.1C1004.2 3228.8 1006.4 3224 1008.8 3219C1011.2 3214 1013.6 3209 1016.2 3204C1018.7 3199 1021.3 3194 1024 3189C1026.6 3184 1029.4 3179 1032.2 3174C1035 3169 1037.9 3164 1040.9 3159C1043.8 3154 1046.9 3149 1050.1 3144C1053.4 3139 1056.8 3133.9 1060.3 3129C1063.9 3124 1067.6 3119 1071.4 3114.2C1075.3 3109.3 1079.3 3104.5 1083.4 3099.9C1087.6 3095.3 1091.9 3090.8 1096.3 3086.5C1100.8 3082.2 1105.4 3078.1 1110.1 3074.2C1114.9 3070.2 1119.9 3066.5 1124.9 3062.9C1129.9 3059.4 1135 3056.1 1140 3053C1145 3049.9 1150 3046.9 1155 3044.3C1160 3041.6 1164.9 3039.2 1170 3037C1175.1 3034.8 1180.1 3032.8 1185.8 3030.9C1191.4 3029.1 1197.8 3027.2 1203.7 3025.7C1209.7 3024.2 1215.6 3022.8 1221.3 3021.9C1227 3021 1232.4 3020.5 1238.1 3020.2C1243.7 3019.9 1249.3 3020 1255.1 3020.3C1261 3020.5 1267.1 3020.8 1273.2 3021.7C1279.2 3022.7 1285.3 3024.4 1291.3 3026.2C1297.3 3028 1303.2 3030.5 1309.3 3032.8C1315.3 3035.2 1321.4 3037.8 1327.4 3040.2C1333.5 3042.7 1339.4 3045.3 1345.4 3047.4C1351.5 3049.4 1357.7 3051.5 1363.8 3052.5C1369.9 3053.6 1375.9 3054.1 1382.1 3053.8C1388.2 3053.5 1394.6 3052.3 1400.8 3050.8C1407.1 3049.3 1414.6 3046.7 1419.6 3044.8C1424.6 3042.9 1426.8 3042.2 1430.7 3039.5Z"/><path d="M1931.8 2849.6C1931.7 2843.8 1932 2837.7 1932.9 2831.8C1933.8 2825.9 1935.3 2820.1 1937.2 2814.4C1939.2 2808.8 1941.7 2803.3 1944.7 2797.9C1947.7 2792.6 1951.1 2787.3 1954.9 2782.3C1958.7 2777.3 1963.1 2772.4 1967.4 2768.1C1971.7 2763.7 1976.2 2759.9 1980.8 2756C1985.4 2752.2 1990.2 2748.6 1995 2745.1C1999.8 2741.5 2004.7 2738.1 2009.6 2734.8C2014.6 2731.5 2019.7 2728.2 2024.8 2725.3C2029.8 2722.3 2034.7 2719.7 2039.7 2717.1C2044.8 2714.5 2049.8 2712.1 2055.1 2709.8C2060.4 2707.5 2066 2705.2 2071.7 2703.3C2077.4 2701.3 2083.3 2699.5 2089.2 2698.1C2095 2696.6 2100.8 2695.5 2106.7 2694.6C2112.5 2693.8 2118.3 2693.2 2124.2 2692.9C2130 2692.6 2135.8 2692.6 2141.7 2692.8C2147.5 2693.1 2153.3 2693.6 2159.2 2694.3C2165 2695.1 2171 2696.1 2176.8 2697.5C2182.7 2698.8 2188.6 2700.4 2194.3 2702.2C2199.9 2704.1 2205.4 2706.2 2210.6 2708.7C2215.8 2711.2 2220.7 2713.7 2225.5 2717.2C2230.2 2720.7 2235.1 2725 2239 2729.7C2243 2734.4 2246.8 2739.9 2249.2 2745.6C2251.6 2751.3 2252.9 2757.6 2253.4 2763.7C2253.9 2769.9 2253.3 2776.3 2252.5 2782.4C2251.6 2788.5 2250 2794.5 2248.1 2800.3C2246.3 2806.1 2244.1 2811.6 2241.4 2817C2238.7 2822.4 2235.5 2827.7 2231.9 2832.7C2228.3 2837.8 2224.2 2842.7 2219.7 2847.3C2215.3 2852 2210.4 2856.5 2205.5 2860.6C2200.6 2864.7 2195.4 2868.6 2190.4 2872.1C2185.4 2875.6 2180.6 2878.6 2175.4 2881.6C2170.2 2884.6 2164.8 2887.5 2159.3 2890.2C2153.7 2892.9 2147.7 2895.5 2141.8 2897.8C2136 2900.2 2130 2902.4 2124.2 2904.3C2118.3 2906.3 2112.5 2908 2106.7 2909.5C2100.8 2911.1 2095 2912.4 2089.2 2913.7C2083.3 2914.9 2077.5 2916 2071.7 2916.8C2065.8 2917.7 2060 2918.4 2054.2 2918.9C2048.3 2919.5 2042.5 2919.8 2036.7 2919.9C2030.8 2920 2025 2920 2019.2 2919.6C2013.3 2919.3 2007.5 2918.9 2001.7 2917.9C1995.8 2917 1989.8 2915.8 1983.8 2914C1977.8 2912.3 1971.5 2910.3 1965.8 2907.6C1960.1 2904.8 1954.4 2901.7 1949.9 2897.6C1945.3 2893.5 1941.3 2888 1938.6 2882.9C1935.9 2877.8 1934.7 2872.3 1933.5 2866.7C1932.4 2861.2 1931.9 2855.5 1931.8 2849.6Z"/><path d="M1379.8 3482.5C1385.4 3480.8 1390.8 3479.2 1396.4 3477.4C1401.9 3475.6 1407.5 3473.7 1413.1 3471.7C1418.8 3469.7 1424.5 3467.7 1430.2 3465.5C1436 3463.4 1441.9 3461.2 1447.5 3458.9C1453.1 3456.7 1458.6 3454.5 1463.9 3452.3C1469.3 3450 1474.4 3447.8 1479.6 3445.4C1484.8 3443.1 1490 3440.8 1495.3 3438.4C1500.5 3435.9 1505.7 3433.5 1511 3431C1516.2 3428.4 1521.5 3425.9 1526.7 3423.3C1532 3420.6 1537.3 3417.9 1542.5 3415.2C1547.8 3412.5 1553 3409.8 1558.3 3406.9C1563.6 3404 1569.2 3401 1574.6 3397.9C1580.1 3394.8 1585.7 3391.5 1591.1 3388.3C1596.4 3385.2 1601.5 3382 1606.5 3378.8C1611.5 3375.6 1616.3 3372.5 1621 3369.3C1625.8 3366.1 1630.5 3362.9 1635.2 3359.5C1639.9 3356.1 1644.5 3352.7 1649.1 3349C1653.8 3345.3 1658.6 3341.4 1663.1 3337.3C1667.5 3333.2 1672 3328.9 1675.9 3324.5C1679.8 3320.1 1683.3 3315.6 1686.5 3311C1689.7 3306.4 1692.7 3301.8 1695.2 3296.6C1697.7 3291.4 1700.2 3285.3 1701.4 3279.6C1702.7 3273.9 1703.3 3267.9 1702.7 3262.4C1702.1 3256.9 1700.6 3251.5 1697.8 3246.8C1695 3242 1691 3237.4 1686.2 3233.7C1681.4 3230 1674.9 3227.1 1669.1 3224.4C1663.3 3221.8 1657.3 3219.5 1651.3 3217.6C1645.4 3215.8 1639.4 3214.3 1633.4 3213.1C1627.4 3211.8 1621.2 3211 1615.3 3210.1C1609.5 3209.3 1604 3208.6 1598.3 3208C1592.6 3207.3 1586.8 3206.8 1581.2 3206.3C1575.5 3205.8 1570 3205.4 1564.4 3205C1558.9 3204.6 1553.3 3204.3 1547.7 3204C1542.2 3203.7 1536.6 3203.5 1531.1 3203.3C1525.5 3203 1520 3202.7 1514.5 3202.3C1508.9 3201.9 1503.4 3201.5 1497.8 3201C1492.3 3200.5 1486.7 3200 1481.1 3199.3C1475.6 3198.6 1470 3197.9 1464.4 3197C1458.9 3196.1 1453.3 3195.1 1447.7 3193.8C1442.1 3192.5 1436.4 3191.5 1431 3189.3C1425.7 3187.2 1420.3 3184.5 1415.3 3181.1C1410.3 3177.7 1405.5 3173 1401 3168.8C1396.5 3164.7 1392.2 3160.3 1388.2 3156.3C1384.1 3152.3 1380.5 3148.8 1376.8 3144.8C1373.1 3140.9 1369.6 3137 1365.9 3132.7C1362.1 3128.3 1358.2 3123.5 1354.3 3118.9C1350.3 3114.3 1346.4 3109.4 1342.3 3104.8C1338.2 3100.3 1334.2 3095.9 1329.7 3091.5C1325.2 3087.1 1320.2 3082.3 1315.3 3078.5C1310.4 3074.7 1305.4 3071.5 1300.3 3068.7C1295.3 3065.9 1290.2 3063.7 1284.9 3061.7C1279.6 3059.7 1274.1 3058 1268.6 3056.6C1263.1 3055.2 1257.5 3054.1 1251.9 3053.3C1246.4 3052.5 1241 3052 1235.2 3051.9C1229.5 3051.7 1223.4 3051.9 1217.4 3052.5C1211.3 3053.1 1205 3054.1 1198.7 3055.5C1192.5 3056.8 1186.2 3058.5 1180 3060.5C1173.8 3062.5 1167.3 3065 1161.5 3067.5C1155.7 3070.1 1150.2 3072.9 1145 3075.9C1139.7 3078.9 1134.9 3082 1130.1 3085.4C1125.4 3088.8 1120.8 3092.5 1116.3 3096.3C1111.9 3100.1 1107.6 3104 1103.4 3108.2C1099.3 3112.3 1095.3 3116.5 1091.4 3120.9C1087.6 3125.3 1083.9 3129.9 1080.3 3134.6C1076.8 3139.3 1073.4 3144.2 1070.1 3149.1C1066.9 3153.9 1063.8 3159 1060.9 3164C1057.9 3168.9 1055 3174 1052.2 3179C1049.4 3184 1046.6 3189 1044 3194C1041.3 3199 1038.7 3204 1036.2 3209C1033.6 3214 1031.2 3219 1028.8 3224C1026.4 3229 1024.2 3233.8 1021.9 3239.1C1019.6 3244.3 1017.2 3249.7 1014.9 3255.5C1012.5 3261.3 1009.9 3267.8 1007.6 3274.1C1005.2 3280.3 1003 3286.7 1000.8 3293.1C998.6 3299.5 996.2 3306.3 994.6 3312.5C992.9 3318.7 991.3 3324.3 990.6 3330.4C990 3336.5 990.3 3343.1 990.7 3349.2C991.2 3355.2 992.2 3361 993.4 3366.8C994.7 3372.6 996.4 3378.1 998.3 3383.8C1000.3 3389.4 1002.7 3395.1 1005 3400.7C1007.4 3406.3 1010 3411.9 1012.4 3417.3C1014.9 3422.6 1017.4 3427.5 1019.6 3432.6C1021.9 3437.6 1024.1 3442.5 1026.1 3447.6C1028.2 3452.8 1030 3458.1 1031.7 3463.6C1033.4 3469.1 1034.8 3475.1 1036.5 3480.9C1038.1 3486.7 1039.5 3492.8 1041.8 3498.4C1044 3504 1046.6 3509.8 1050.1 3514.5C1053.5 3519.2 1057.8 3523.5 1062.4 3526.7C1067 3530 1072.5 3532.5 1077.9 3534.3C1083.3 3536 1089.2 3537 1094.9 3537.4C1100.5 3537.9 1106.1 3537.4 1111.9 3536.9C1117.7 3536.3 1123.7 3535.3 1129.7 3534.3C1135.8 3533.3 1142.1 3532 1148.2 3530.8C1154.3 3529.5 1160.3 3528.1 1166.4 3526.9C1172.4 3525.6 1178.5 3524.3 1184.5 3523.1C1190.5 3521.9 1196.5 3520.7 1202.5 3519.5C1208.5 3518.3 1214.5 3517.2 1220.5 3516.1C1226.5 3514.9 1232.5 3513.7 1238.5 3512.5C1244.5 3511.3 1250.5 3510 1256.5 3508.8C1262.5 3507.5 1268.6 3506.3 1274.6 3505C1280.6 3503.7 1286.6 3502.5 1292.3 3501.2C1298.1 3500 1303.5 3498.6 1309.2 3497.4C1314.9 3496.2 1320.6 3495.2 1326.6 3494.2C1332.6 3493.1 1339.2 3492.3 1345.2 3491.2C1351.2 3490 1356.9 3488.7 1362.6 3487.2C1368.4 3485.8 1374.2 3484.1 1379.8 3482.5Z"/><path d="M1380.4 3441.7C1385.3 3440.1 1392.4 3438 1398.3 3436.2C1404.1 3434.3 1409.9 3432.5 1415.4 3430.5C1420.9 3428.6 1426.1 3426.6 1431.4 3424.5C1436.7 3422.5 1441.9 3420.5 1447.1 3418.4C1452.4 3416.2 1457.8 3414 1463.1 3411.7C1468.4 3409.4 1473.7 3407 1479 3404.5C1484.3 3402 1489.7 3399.3 1494.9 3396.7C1500.1 3394 1505.3 3391.2 1510.3 3388.4C1515.4 3385.6 1520.3 3382.8 1525.3 3379.7C1530.3 3376.7 1535.3 3373.4 1540.3 3370.1C1545.2 3366.7 1550.1 3363.1 1555 3359.4C1559.8 3355.6 1564.6 3351.8 1569.1 3347.7C1573.6 3343.6 1578.2 3339.3 1581.8 3334.7C1585.5 3330.1 1589 3325.2 1591.2 3320.1C1593.5 3315 1595.5 3309.2 1595.3 3304.1C1595.1 3299 1593.1 3293.6 1590.2 3289.4C1587.2 3285.1 1582.4 3281.4 1577.7 3278.4C1572.9 3275.4 1567.3 3273.1 1561.7 3271.2C1556.1 3269.4 1550 3268.4 1544.2 3267.4C1538.4 3266.4 1532.7 3265.7 1527 3265.1C1521.3 3264.6 1515.8 3264.3 1509.9 3264.2C1504.1 3264 1498.1 3264.2 1491.9 3264.3C1485.7 3264.5 1479.1 3264.8 1472.8 3265.2C1466.5 3265.6 1460.2 3266.1 1454.1 3266.7C1448 3267.3 1442.2 3268.1 1436.4 3268.8C1430.6 3269.4 1425.1 3270.1 1419.3 3270.6C1413.6 3271 1407.6 3271.3 1401.9 3271.4C1396.2 3271.6 1390.7 3271.7 1385.1 3271.4C1379.5 3271.1 1373.8 3271 1368.2 3269.6C1362.7 3268.2 1356.4 3266.2 1351.7 3262.9C1347 3259.7 1343.2 3255 1340.1 3250C1337 3245 1335.2 3238.8 1333.1 3232.9C1331 3227 1329.4 3220.5 1327.7 3214.6C1326 3208.7 1324.7 3203.2 1323.1 3197.6C1321.5 3192 1320 3186.5 1318.1 3181C1316.3 3175.5 1314.4 3170 1312.1 3164.5C1309.8 3158.9 1307.1 3153.3 1304.3 3147.8C1301.4 3142.4 1298.2 3136.8 1294.9 3131.8C1291.7 3126.7 1288.4 3121.9 1284.8 3117.5C1281.1 3113.2 1277.3 3109.2 1273.1 3105.7C1268.9 3102.3 1264.5 3099.3 1259.4 3096.7C1254.3 3094 1248.4 3091.6 1242.5 3089.8C1236.6 3088.1 1230 3086.8 1223.8 3086.2C1217.5 3085.7 1211.2 3085.8 1205 3086.4C1198.7 3087.1 1192.3 3088.3 1186.3 3090C1180.2 3091.6 1174.3 3093.8 1168.7 3096.2C1163.2 3098.6 1158.1 3101.4 1153.2 3104.3C1148.2 3107.2 1144 3110 1139.3 3113.5C1134.5 3117 1129.6 3120.9 1124.8 3125.2C1120 3129.4 1115 3134.2 1110.6 3138.9C1106.1 3143.7 1101.8 3148.8 1098.1 3153.5C1094.4 3158.3 1091.4 3162.6 1088.4 3167.3C1085.3 3172 1082.5 3176.6 1079.7 3181.5C1076.9 3186.3 1074.1 3191.4 1071.5 3196.4C1068.8 3201.4 1066.2 3206.5 1063.7 3211.5C1061.1 3216.5 1058.7 3221.5 1056.3 3226.5C1053.9 3231.5 1051.7 3236.3 1049.4 3241.6C1047.1 3246.8 1044.7 3252.2 1042.4 3258C1040 3263.8 1037.4 3270.3 1035.1 3276.6C1032.7 3282.8 1030.3 3289.1 1028.3 3295.6C1026.3 3302.1 1024.1 3308.8 1022.9 3315.6C1021.7 3322.3 1020.9 3329.4 1021.1 3336C1021.3 3342.6 1022.7 3349.1 1024.2 3355.2C1025.8 3361.3 1027.9 3366.8 1030.4 3372.5C1032.9 3378.1 1036.1 3383.9 1039.1 3389.2C1042.1 3394.4 1045.4 3399.2 1048.5 3404C1051.6 3408.8 1054.6 3413.1 1057.7 3417.9C1060.8 3422.7 1063.9 3427.7 1067.1 3432.9C1070.3 3438.1 1073.5 3443.9 1076.7 3449.2C1080 3454.6 1083.1 3460.3 1086.7 3464.9C1090.3 3469.5 1093.9 3473.4 1098.5 3476.7C1103 3479.9 1108.4 3482.7 1114.2 3484.5C1119.9 3486.3 1126.7 3487.1 1133 3487.4C1139.3 3487.6 1145.8 3486.6 1152.1 3485.8C1158.3 3485 1164.5 3483.7 1170.7 3482.6C1176.8 3481.4 1182.8 3480.1 1188.9 3478.8C1194.9 3477.5 1201 3476.3 1207 3475C1213 3473.7 1219 3472.5 1225 3471.2C1231 3470 1237 3468.7 1243 3467.5C1249 3466.2 1255 3465.1 1261 3463.9C1267 3462.8 1273 3461.7 1279 3460.6C1285 3459.4 1291 3458.1 1297 3457.1C1303 3456 1309 3454.8 1315 3454.1C1321.1 3453.4 1327.3 3453.4 1333.4 3452.7C1339.5 3452.1 1345.6 3451.4 1351.5 3450.2C1357.4 3448.9 1364 3446.7 1368.8 3445.3C1373.6 3443.9 1375.5 3443.2 1380.4 3441.7Z"/><path d="M1379.9 3405.8C1384.6 3404.7 1390.9 3403.3 1396.6 3401.7C1402.2 3400.1 1408 3398.3 1413.9 3396.2C1419.8 3394.2 1426.1 3391.8 1432.1 3389.3C1438.2 3386.9 1444.3 3384.2 1450 3381.4C1455.6 3378.6 1461 3375.7 1466.1 3372.5C1471.2 3369.4 1475.8 3366.3 1480.6 3362.5C1485.3 3358.7 1490.6 3354.5 1494.5 3349.7C1498.4 3345 1504 3338.7 1504 3333.8C1503.9 3328.9 1498.8 3323.8 1494.1 3320.5C1489.4 3317.1 1481.9 3314.9 1475.8 3313.6C1469.8 3312.3 1464 3312.4 1458 3312.5C1451.9 3312.5 1445.8 3313.1 1439.6 3313.7C1433.4 3314.3 1426.8 3315.5 1420.8 3316C1414.8 3316.6 1409.6 3316.4 1403.5 3317C1397.4 3317.5 1390.8 3318.4 1384.3 3319.4C1377.7 3320.3 1370.8 3321.7 1364.4 3322.6C1357.9 3323.5 1351.8 3324.8 1345.6 3324.6C1339.5 3324.5 1333.1 3323.9 1327.4 3321.6C1321.8 3319.4 1315.7 3315.5 1311.5 3311.3C1307.3 3307.2 1304.6 3302.1 1302.4 3296.7C1300.1 3291.4 1299 3285.2 1297.9 3279.3C1296.8 3273.4 1296.4 3267.1 1296 3261.3C1295.5 3255.5 1295.4 3250.1 1295.2 3244.6C1295 3239 1294.9 3233.5 1294.6 3228C1294.3 3222.5 1294.1 3217 1293.6 3211.5C1293.1 3206 1292.6 3200.5 1291.7 3195C1290.9 3189.5 1289.9 3183.9 1288.7 3178.4C1287.4 3172.8 1286 3167.3 1284 3161.7C1282 3156.1 1279.5 3150.3 1276.5 3144.9C1273.5 3139.5 1269.8 3134.1 1265.7 3129.4C1261.7 3124.8 1257.1 3120.5 1252.1 3117.1C1247.1 3113.6 1241.3 3110.8 1235.8 3108.8C1230.2 3106.9 1224.4 3105.8 1218.8 3105.2C1213.1 3104.7 1207.5 3105 1201.9 3105.7C1196.2 3106.4 1190.6 3107.7 1185 3109.3C1179.3 3110.9 1173.6 3113 1168.1 3115.4C1162.7 3117.9 1157.6 3120.6 1152.4 3123.8C1147.3 3127 1142.4 3130.6 1137.4 3134.6C1132.5 3138.6 1127.4 3143.2 1122.7 3147.9C1118.1 3152.5 1113.5 3157.7 1109.5 3162.5C1105.5 3167.2 1102.1 3171.8 1098.9 3176.6C1095.6 3181.3 1092.8 3185.8 1089.8 3191C1086.7 3196.2 1083.5 3202.3 1080.7 3207.8C1077.9 3213.3 1075.4 3218.6 1072.9 3223.9C1070.5 3229.2 1068.4 3234.1 1066 3239.7C1063.6 3245.4 1061.1 3251.6 1058.7 3257.8C1056.3 3263.9 1053.9 3270.4 1051.8 3276.6C1049.6 3282.7 1047.6 3288.8 1045.8 3294.7C1044.1 3300.6 1042.4 3306.3 1041.4 3312.1C1040.3 3317.9 1039.3 3324 1039.6 3329.5C1039.8 3334.9 1041.1 3339.8 1042.8 3344.8C1044.5 3349.9 1047 3354.8 1049.9 3359.9C1052.7 3364.9 1056.1 3370 1059.8 3375C1063.5 3380 1067.8 3385.2 1071.9 3390.1C1076.1 3395 1080.7 3400.1 1084.7 3404.6C1088.8 3409.2 1092.5 3413.2 1096.3 3417.3C1100.2 3421.4 1103.5 3425.4 1107.7 3429.1C1111.9 3432.7 1116.5 3436.5 1121.5 3439.2C1126.4 3442 1131.9 3444.3 1137.5 3445.7C1143.2 3447.1 1149.5 3447.8 1155.4 3447.8C1161.4 3447.9 1167.4 3447 1173.3 3446.1C1179.2 3445.2 1184.8 3443.8 1190.7 3442.5C1196.6 3441.2 1202.8 3439.8 1208.8 3438.4C1214.9 3437 1221 3435.6 1227 3434.2C1233 3432.8 1239 3431.4 1245 3430C1251 3428.7 1257 3427.4 1263 3426.2C1269 3425 1275.1 3423.8 1281.1 3422.7C1287.2 3421.6 1293.2 3420.7 1299.3 3419.7C1305.5 3418.7 1312 3417.7 1318 3416.8C1323.9 3415.9 1329.5 3415.2 1335 3414.4C1340.5 3413.6 1345.5 3412.9 1351 3411.9C1356.6 3410.9 1363.5 3409.4 1368.3 3408.4C1373.1 3407.4 1375.2 3406.9 1379.9 3405.8Z"/><path d="M1254.8 3326.5C1255.7 3320.8 1256.5 3315.5 1257.6 3309.8C1258.7 3304.1 1260 3298.3 1261.2 3292.4C1262.4 3286.4 1263.8 3280.2 1264.9 3274.1C1266.1 3268 1267.2 3261.8 1268.1 3255.9C1269.1 3250 1270 3244.1 1270.6 3238.4C1271.3 3232.7 1271.9 3227.4 1272.1 3221.7C1272.2 3215.9 1272.2 3209.9 1271.5 3203.9C1270.9 3197.8 1269.8 3191.4 1268.2 3185.2C1266.7 3179 1264.7 3172.6 1262.2 3166.7C1259.7 3160.7 1256.9 3154.8 1253.2 3149.5C1249.6 3144.2 1245.1 3138.8 1240.3 3134.7C1235.5 3130.7 1229.9 3127.4 1224.4 3125.4C1218.9 3123.5 1213.2 3123.2 1207.5 3123.2C1201.9 3123.2 1196.3 3124.2 1190.6 3125.4C1185 3126.6 1179.2 3128.5 1173.7 3130.6C1168.2 3132.8 1162.6 3135.4 1157.5 3138.3C1152.3 3141.2 1147.4 3144.4 1142.7 3148C1138 3151.6 1133.5 3155.6 1129.3 3159.8C1125.1 3164 1121.2 3168.5 1117.4 3173.2C1113.6 3177.9 1110 3182.9 1106.5 3188C1103 3193.2 1099.6 3198.6 1096.5 3204.1C1093.3 3209.5 1090.5 3215 1087.8 3220.9C1085 3226.7 1082.4 3232.8 1079.9 3238.9C1077.4 3245.1 1075 3251.5 1072.8 3257.7C1070.5 3264 1068.3 3270.3 1066.4 3276.6C1064.6 3282.9 1062.9 3289.4 1061.4 3295.5C1059.9 3301.7 1058.3 3307.7 1057.4 3313.5C1056.6 3319.2 1055.5 3324.5 1056.4 3330.1C1057.3 3335.6 1059.8 3341.5 1062.7 3346.6C1065.6 3351.7 1069.5 3356.3 1073.6 3360.6C1077.7 3364.9 1082.5 3368.8 1087.2 3372.5C1091.9 3376.3 1097.1 3379.7 1101.8 3383C1106.5 3386.3 1110.9 3389.3 1115.6 3392.2C1120.4 3395.1 1125.1 3397.9 1130.1 3400.3C1135.1 3402.7 1140.3 3405 1145.7 3406.5C1151.1 3408 1156.9 3409.1 1162.5 3409.3C1168.1 3409.4 1173.9 3408.5 1179.4 3407.4C1184.8 3406.3 1190.1 3404.7 1195.3 3402.6C1200.4 3400.6 1205.2 3398.2 1210.2 3395.2C1215.2 3392.3 1220.4 3388.6 1225.1 3385C1229.8 3381.3 1234.6 3377.5 1238.2 3373.3C1241.9 3369.1 1244.7 3364.7 1247.1 3359.8C1249.4 3354.9 1250.9 3349.6 1252.2 3344.1C1253.5 3338.5 1253.9 3332.2 1254.8 3326.5Z"/><path d="M1142.5 3325.7C1137.8 3325.4 1131.1 3325.1 1125.6 3323.5C1120.1 3321.9 1114.6 3319.5 1109.6 3316C1104.7 3312.6 1099.7 3307.9 1096.1 3302.9C1092.4 3297.8 1089.4 3291.7 1087.6 3285.7C1085.9 3279.8 1085.3 3273.6 1085.5 3267.3C1085.6 3260.9 1086.7 3253.9 1088.4 3247.5C1090 3241 1092.6 3234.5 1095.1 3228.6C1097.7 3222.7 1100.7 3217.1 1103.8 3211.9C1107 3206.7 1110.1 3202 1114 3197.3C1117.9 3192.6 1122.4 3187.9 1127.1 3183.8C1131.9 3179.8 1137.2 3175.9 1142.3 3172.9C1147.4 3170 1152.4 3167.8 1157.6 3166C1162.9 3164.1 1168.3 3162.3 1173.9 3161.6C1179.4 3160.9 1185.4 3160.6 1190.9 3161.6C1196.4 3162.7 1202.4 3164.6 1207.1 3167.9C1211.9 3171.1 1216 3176.4 1219.1 3181.1C1222.2 3185.9 1224.2 3191.1 1225.7 3196.4C1227.3 3201.6 1228.1 3207.1 1228.4 3212.7C1228.8 3218.2 1228.6 3223.9 1228 3229.5C1227.3 3235.2 1226.2 3240.9 1224.5 3246.8C1222.8 3252.7 1220.3 3259.3 1217.8 3264.9C1215.3 3270.6 1212.4 3275.7 1209.3 3280.6C1206.2 3285.6 1203.2 3289.8 1199.4 3294.6C1195.6 3299.3 1191.4 3304.9 1186.7 3309.2C1181.9 3313.6 1176.4 3317.9 1171 3320.6C1165.5 3323.3 1158.7 3324.5 1154 3325.3C1149.2 3326.2 1147.3 3326 1142.5 3325.7Z"/><path d="M1320.8 1632.8C1317.7 1631.1 1311.3 1627.7 1307.5 1623.8C1303.6 1619.9 1300.4 1614.7 1297.8 1609.3C1295.2 1603.9 1293.5 1597.5 1291.8 1591.5C1290.1 1585.6 1288.8 1579.6 1287.6 1573.6C1286.5 1567.7 1285.5 1561.8 1284.8 1555.9C1284.1 1550.1 1283.7 1544.2 1283.5 1538.3C1283.3 1532.5 1283.4 1526.7 1283.8 1520.8C1284.1 1515 1284.7 1509 1285.5 1503.2C1286.3 1497.3 1287.3 1491.5 1288.8 1485.5C1290.3 1479.6 1292.2 1473.5 1294.5 1467.7C1296.8 1461.8 1299.6 1455.9 1302.5 1450.6C1305.4 1445.3 1308.5 1440.5 1311.9 1435.8C1315.3 1431.1 1318.9 1426.7 1323.1 1422.4C1327.2 1418.1 1332.1 1413.8 1337 1410.1C1341.9 1406.3 1347.3 1402.9 1352.6 1399.9C1357.9 1396.9 1363.3 1394.3 1368.8 1392C1374.3 1389.7 1380 1387.7 1385.7 1386C1391.4 1384.4 1397.2 1383.1 1403 1382C1408.8 1380.9 1414.7 1380.1 1420.6 1379.5C1426.5 1378.8 1432.3 1378.4 1438.2 1378.1C1444 1377.8 1449.7 1377.6 1455.7 1377.7C1461.7 1377.8 1467.8 1378.1 1473.9 1378.7C1479.9 1379.4 1486 1380.2 1492 1381.6C1497.9 1383 1504.1 1385 1509.5 1387.4C1515 1389.7 1519.9 1392.5 1524.9 1395.9C1529.9 1399.3 1535 1403.6 1539.5 1408C1544 1412.4 1548.4 1417.6 1551.9 1422.5C1555.5 1427.4 1558.3 1432.3 1560.7 1437.4C1563.1 1442.4 1564.9 1447.6 1566.2 1453C1567.4 1458.4 1568.4 1464 1568.5 1469.7C1568.5 1475.5 1567.7 1481.7 1566.3 1487.6C1564.9 1493.4 1562.5 1499.3 1560 1504.7C1557.4 1510.1 1554.5 1514.9 1551 1519.8C1547.5 1524.7 1543.4 1529.5 1539 1534.2C1534.7 1538.9 1529.7 1543.6 1524.9 1547.9C1520.1 1552.3 1515.2 1556.4 1510.3 1560.3C1505.4 1564.2 1500.3 1567.9 1495.3 1571.3C1490.3 1574.7 1485.4 1577.9 1480.4 1580.9C1475.4 1583.9 1470.6 1586.7 1465.4 1589.5C1460.2 1592.3 1454.9 1595 1449.3 1597.6C1443.8 1600.3 1437.9 1602.9 1432.1 1605.4C1426.3 1607.9 1420.6 1610.2 1414.7 1612.6C1408.9 1614.9 1403.1 1617.2 1397.3 1619.2C1391.4 1621.3 1385.7 1623.2 1379.9 1624.9C1374 1626.5 1367.9 1628 1362 1629.3C1356.1 1630.6 1350.2 1631.8 1344.2 1632.6C1338.3 1633.4 1330.1 1633.8 1326.2 1633.9C1322.3 1633.9 1323.9 1634.4 1320.8 1632.8Z"/><path d="M1049.9 1880.7C1052.8 1875.5 1056 1870.4 1059.3 1865.4C1062.6 1860.4 1066.3 1855.2 1069.8 1850.5C1073.3 1845.8 1076.6 1841.5 1080.2 1837.2C1083.8 1832.8 1087.4 1828.6 1091.2 1824.3C1095.1 1820 1099 1815.7 1103.2 1811.3C1107.3 1807 1111.6 1802.7 1116 1798.5C1120.5 1794.2 1125.1 1790 1129.9 1785.9C1134.7 1781.8 1139.8 1777.8 1144.8 1773.9C1149.8 1770 1154.9 1766.2 1160 1762.6C1165 1759 1170 1755.6 1175 1752.4C1180 1749.1 1185 1746 1190 1743C1195.1 1740 1200.2 1737.1 1205.3 1734.4C1210.4 1731.7 1215.3 1729.2 1220.6 1726.8C1225.9 1724.4 1231.3 1722 1237 1720.1C1242.8 1718.2 1249.2 1716.3 1254.9 1715.5C1260.5 1714.6 1265.9 1714.2 1271.1 1715C1276.2 1715.7 1280.9 1717.6 1285.5 1719.9C1290 1722.3 1294.3 1725.2 1298.1 1729.1C1302 1732.9 1305.4 1738 1308.6 1743C1311.7 1748.1 1314.5 1754.1 1317.2 1759.3C1320 1764.6 1322.4 1769.3 1324.9 1774.5C1327.5 1779.8 1330 1785.2 1332.5 1790.8C1335.1 1796.5 1337.6 1802.5 1340.1 1808.4C1342.7 1814.4 1345.2 1820.4 1347.7 1826.4C1350.3 1832.4 1352.9 1838.4 1355.2 1844.4C1357.5 1850.4 1359.9 1856.6 1361.6 1862.6C1363.2 1868.6 1364.4 1874.6 1365.2 1880.4C1366 1886.1 1365.8 1891.5 1366.4 1897.1C1367 1902.7 1367.3 1908.5 1369 1913.9C1370.8 1919.3 1373.4 1925.1 1376.9 1929.5C1380.3 1933.8 1385 1937.5 1390 1940C1394.9 1942.6 1400.9 1943.8 1406.5 1944.7C1412.2 1945.6 1418.1 1945.6 1423.7 1945.5C1429.4 1945.3 1434.9 1944.5 1440.5 1943.8C1446 1943 1451.6 1942.1 1457.1 1940.9C1462.6 1939.7 1467.9 1938.3 1473.5 1936.6C1479.1 1934.9 1484.8 1932.9 1490.6 1930.8C1496.4 1928.7 1502.4 1926.3 1508.3 1924C1514.3 1921.8 1520.4 1919.4 1526.4 1917.3C1532.4 1915.1 1538.5 1913 1544.4 1911.3C1550.3 1909.6 1555.8 1907.8 1561.7 1907.1C1567.6 1906.4 1573.7 1905.9 1579.6 1906.9C1585.5 1907.9 1592.2 1909.8 1596.9 1912.9C1601.6 1916 1605.5 1920.4 1607.7 1925.5C1609.9 1930.6 1610.6 1937.4 1610.1 1943.6C1609.6 1949.7 1607.1 1956.4 1604.6 1962.3C1602.1 1968.2 1598.5 1973.7 1595 1978.7C1591.5 1983.7 1587.5 1988 1583.5 1992.3C1579.5 1996.7 1575.2 2000.7 1571 2004.8C1566.8 2008.8 1562.6 2012.7 1558.4 2016.7C1554.1 2020.7 1549.8 2024.6 1545.5 2028.9C1541.1 2033.1 1536.6 2037.4 1532.3 2042.1C1528 2046.7 1523.8 2051.6 1519.6 2056.6C1515.5 2061.6 1511.4 2066.8 1507.5 2072C1503.6 2077.3 1499.7 2082.6 1496.1 2087.9C1492.5 2093.3 1489.2 2098.8 1485.8 2104.2C1482.4 2109.5 1479.2 2114.8 1475.8 2120.2C1472.4 2125.6 1468.8 2131.1 1465.3 2136.4C1461.8 2141.7 1458.3 2146.8 1454.7 2151.9C1451.1 2157 1447.4 2162.2 1443.6 2167.2C1439.7 2172.1 1435.7 2177 1431.6 2181.7C1427.6 2186.4 1423.3 2190.9 1419.2 2195.2C1415 2199.5 1410.7 2203.6 1406.5 2207.5C1402.3 2211.5 1398.2 2215.1 1393.8 2218.7C1389.3 2222.4 1384.7 2226 1380 2229.3C1375.2 2232.6 1370.2 2235.8 1365.2 2238.8C1360.1 2241.7 1355.1 2244.6 1349.9 2246.9C1344.6 2249.3 1339.1 2251.4 1333.6 2253.1C1328.1 2254.7 1322.6 2255.9 1316.9 2257C1311.3 2258 1305.7 2258.8 1299.8 2259.2C1293.8 2259.7 1287.5 2259.7 1281.3 2259.6C1275.2 2259.4 1268.9 2259 1262.7 2258.4C1256.5 2257.8 1250.4 2256.9 1244.3 2256.1C1238.2 2255.2 1232.2 2254.1 1226.1 2253.1C1220 2252.1 1213.9 2251.1 1207.8 2250.1C1201.7 2249 1195.7 2248.2 1189.6 2246.7C1183.5 2245.3 1177.1 2243.8 1171.3 2241.5C1165.5 2239.3 1159.8 2236.6 1154.8 2233.3C1149.8 2230 1145 2226.4 1141.4 2221.6C1137.7 2216.7 1134.9 2210.4 1133.1 2204.3C1131.3 2198.3 1130.7 2191.3 1130.5 2185.2C1130.3 2179 1131 2173.5 1131.8 2167.4C1132.7 2161.3 1134.2 2155.1 1135.8 2148.8C1137.3 2142.5 1139.4 2136 1141.3 2129.5C1143.1 2123 1145.3 2116.6 1146.8 2110.1C1148.3 2103.5 1150.3 2096.2 1150.1 2090C1149.9 2083.7 1149.3 2076 1145.8 2072.3C1142.3 2068.5 1135.1 2068.4 1129.3 2067.4C1123.4 2066.4 1116.9 2066.5 1110.7 2066.4C1104.6 2066.3 1098.2 2067 1092.2 2066.9C1086.3 2066.7 1080.7 2066.6 1074.8 2065.5C1068.8 2064.4 1062.2 2062.8 1056.5 2060.3C1050.8 2057.8 1045.2 2054.3 1040.5 2050.5C1035.7 2046.7 1031.4 2042.2 1028.1 2037.5C1024.8 2032.7 1022.6 2027.6 1020.7 2021.9C1018.9 2016.3 1017.7 2009.9 1017 2003.6C1016.3 1997.2 1016.1 1990.2 1016.4 1983.6C1016.7 1977 1017.7 1970 1018.8 1963.9C1020 1957.8 1021.6 1952.6 1023.3 1947.1C1024.9 1941.6 1026.7 1936.4 1028.7 1930.8C1030.7 1925.2 1032.8 1919.3 1035 1913.6C1037.3 1908 1039.6 1902.4 1042.1 1897C1044.6 1891.5 1047.1 1886 1049.9 1880.7Z"/><path d="M2392.7 1372.4C2386.3 1372.1 2380 1371.7 2374 1370.1C2367.9 1368.6 2361.6 1366.4 2356.5 1363.1C2351.3 1359.7 2346.4 1354.6 2343 1349.9C2339.6 1345.2 2337.5 1340.1 2336.1 1334.8C2334.7 1329.5 2334 1323.8 2334.5 1318.2C2335.1 1312.6 2336.8 1306.4 2339.4 1301.1C2342 1295.8 2345.9 1290.7 2350.1 1286.3C2354.3 1281.9 2359.5 1278 2364.8 1274.5C2370 1271 2375.7 1267.9 2381.5 1265.3C2387.3 1262.7 2393.5 1260.6 2399.6 1258.9C2405.8 1257.2 2412.1 1256.1 2418.4 1255.1C2424.7 1254.2 2431 1253.4 2437.4 1253.3C2443.8 1253.2 2450.4 1253.3 2456.5 1254.4C2462.6 1255.4 2468.8 1256.5 2474 1259.5C2479.2 1262.4 2484.4 1267 2487.8 1271.9C2491.2 1276.8 2493.4 1283.2 2494.3 1288.9C2495.1 1294.6 2494.2 1300.5 2492.9 1306.1C2491.6 1311.7 2489.3 1317.3 2486.6 1322.5C2483.8 1327.7 2480.5 1332.7 2476.4 1337.4C2472.4 1342 2467.3 1346.7 2462.4 1350.6C2457.5 1354.4 2452.3 1357.6 2447 1360.4C2441.8 1363.2 2436.7 1365.6 2430.9 1367.5C2425.1 1369.4 2418.4 1371.1 2412.1 1371.9C2405.7 1372.7 2399 1372.7 2392.7 1372.4Z"/><path d="M1095 1875.3C1098.2 1871.2 1102.6 1865.6 1106.7 1861.2C1110.9 1856.7 1115.2 1852.5 1120 1848.5C1124.7 1844.6 1129.7 1840.7 1135.2 1837.4C1140.6 1834.2 1146.7 1831.3 1152.6 1829C1158.5 1826.8 1164.8 1825.2 1170.6 1824C1176.4 1822.8 1182 1821.9 1187.6 1821.9C1193.3 1821.8 1199.2 1821.7 1204.6 1823.5C1210 1825.4 1215.8 1829 1220 1832.9C1224.2 1836.9 1227.7 1842.5 1229.9 1847.4C1232.2 1852.3 1233 1857.2 1233.5 1862.4C1233.9 1867.6 1233.4 1873.3 1232.6 1878.9C1231.8 1884.5 1230.5 1890.4 1228.5 1896.1C1226.5 1901.9 1223.5 1907.8 1220.7 1913.2C1217.9 1918.6 1214.9 1923.6 1211.6 1928.5C1208.4 1933.3 1205.1 1937.8 1201.3 1942.4C1197.6 1947.1 1193.6 1951.8 1189.2 1956.3C1184.8 1960.9 1179.9 1965.5 1175 1969.7C1170.1 1974 1164.9 1978.2 1159.9 1982C1154.8 1985.8 1150 1989.5 1144.8 1992.7C1139.7 1995.9 1134.2 1998.9 1128.8 2001.3C1123.3 2003.7 1117.7 2006 1112.2 2007.2C1106.7 2008.4 1101.2 2009.2 1095.6 2008.3C1089.9 2007.5 1083.1 2005.2 1078.4 2002.1C1073.7 1998.9 1069.9 1994.3 1067.4 1989.5C1064.9 1984.6 1064.1 1978.7 1063.3 1972.8C1062.6 1966.9 1062.8 1960.2 1063.1 1954C1063.4 1947.9 1064.1 1941.7 1065.2 1935.9C1066.4 1930.1 1067.8 1924.6 1069.8 1919C1071.9 1913.4 1074.7 1907.8 1077.6 1902.3C1080.6 1896.7 1084.7 1890.3 1087.6 1885.8C1090.5 1881.3 1091.8 1879.4 1095 1875.3Z"/><path d="M1236.9 2149.3C1237.3 2145.6 1237.7 2138.1 1239.7 2132.4C1241.6 2126.8 1244.9 2120.7 1248.5 2115.5C1252 2110.2 1256.6 2105.3 1260.8 2100.9C1265.1 2096.4 1269.6 2092.4 1274.1 2088.6C1278.6 2084.8 1283 2081.4 1287.9 2078C1292.7 2074.6 1298 2071.3 1303.4 2068.2C1308.9 2065.1 1314.6 2062.2 1320.5 2059.5C1326.4 2056.8 1332.8 2054.1 1338.8 2051.9C1344.8 2049.6 1350.6 2047.7 1356.3 2046.1C1362 2044.4 1367.4 2043 1373.1 2041.9C1378.8 2040.9 1384.4 2039.9 1390.2 2039.9C1396.1 2039.9 1402.5 2040 1408 2042.1C1413.5 2044.1 1419.4 2047.9 1423.4 2052.2C1427.3 2056.5 1430.4 2062.4 1431.9 2067.9C1433.4 2073.3 1432.8 2079.2 1432.2 2084.8C1431.7 2090.4 1430.3 2096.1 1428.7 2101.5C1427.1 2106.9 1425 2112 1422.5 2117.1C1420 2122.3 1416.9 2127.3 1413.6 2132.3C1410.3 2137.2 1406.4 2142.2 1402.6 2146.8C1398.9 2151.5 1395.4 2155.9 1391.2 2160.2C1387.1 2164.5 1382.6 2169 1377.8 2172.9C1373.1 2176.7 1367.8 2180.4 1362.7 2183.4C1357.6 2186.4 1352.6 2188.8 1347.4 2190.8C1342.1 2192.9 1336.7 2194.7 1331 2195.9C1325.3 2197.1 1319.4 2197.9 1313.2 2198.1C1307 2198.2 1300.2 2197.7 1293.8 2196.6C1287.5 2195.4 1281 2193.7 1275 2191.2C1268.9 2188.8 1262.8 2185.4 1257.6 2181.8C1252.5 2178.1 1247.2 2173.9 1243.9 2169.4C1240.5 2164.9 1238.6 2158 1237.5 2154.7C1236.3 2151.3 1236.6 2153 1236.9 2149.3Z"/><path d="M1820.5 1959.7C1815 1961.6 1810.1 1964.1 1805.1 1966.7C1800.2 1969.4 1795.6 1972.3 1790.6 1975.5C1785.7 1978.6 1780.5 1982.2 1775.6 1985.7C1770.6 1989.2 1765.8 1992.7 1760.8 1996.4C1755.8 2000.1 1750.5 2004.1 1745.4 2007.9C1740.3 2011.8 1735.2 2015.6 1730.1 2019.5C1725.1 2023.4 1719.9 2027.4 1714.9 2031.3C1709.9 2035.2 1704.9 2039.1 1700.1 2042.9C1695.3 2046.7 1690.7 2050.5 1686.2 2054.2C1681.7 2057.8 1677.4 2061.3 1673.1 2065.1C1668.7 2068.8 1664.5 2072.5 1660.3 2076.5C1656.1 2080.4 1651.8 2084.6 1647.7 2088.9C1643.6 2093.2 1639.5 2097.6 1635.5 2102.3C1631.5 2107 1627.2 2112.3 1623.7 2117.2C1620.2 2122.2 1617 2126.9 1614.5 2132.1C1612.1 2137.3 1610.3 2142.5 1609 2148.3C1607.7 2154.1 1607.1 2160.7 1606.8 2166.9C1606.5 2173.2 1606.8 2179.5 1607.2 2185.7C1607.5 2192 1608.2 2198.3 1608.7 2204.5C1609.3 2210.7 1610 2216.9 1610.3 2223.1C1610.7 2229.3 1610.9 2235.5 1610.8 2241.6C1610.8 2247.6 1610.5 2253.6 1610.1 2259.6C1609.6 2265.5 1609 2271.6 1608.1 2277.5C1607.3 2283.5 1606.3 2289.3 1605 2295.2C1603.8 2301.1 1602.4 2307 1600.7 2312.9C1599 2318.8 1597.1 2324.7 1595.1 2330.6C1593 2336.5 1590.8 2342.4 1588.3 2348.4C1585.9 2354.3 1583.2 2360.4 1580.3 2366.2C1577.4 2371.9 1574.1 2377.4 1571 2382.7C1567.8 2388 1564.3 2393 1561.1 2397.8C1558 2402.7 1555.1 2407.1 1551.9 2411.8C1548.7 2416.5 1545.4 2421.1 1542 2425.9C1538.5 2430.7 1534.5 2435.7 1531 2440.5C1527.5 2445.3 1524.1 2449.6 1520.8 2454.6C1517.5 2459.6 1513.1 2465 1511.3 2470.6C1509.5 2476.1 1507.3 2483.5 1509.8 2488C1512.2 2492.5 1520.4 2495.6 1525.8 2497.6C1531.3 2499.6 1537.1 2500.1 1542.7 2500.1C1548.4 2500.1 1554.1 2499.3 1559.7 2497.8C1565.4 2496.3 1571.1 2494 1576.6 2491.3C1582.1 2488.6 1587.8 2485.2 1592.9 2481.8C1597.9 2478.4 1602.4 2474.7 1607 2470.9C1611.6 2467 1616 2462.9 1620.5 2458.6C1625 2454.3 1629.6 2449.7 1633.9 2445.3C1638.1 2440.9 1642.1 2436.5 1646 2432.2C1650 2427.9 1653.6 2423.7 1657.3 2419.6C1661.1 2415.5 1664.6 2411.8 1668.4 2407.7C1672.2 2403.6 1676.3 2399.3 1680.2 2395C1684.1 2390.7 1687.8 2386.5 1691.8 2382C1695.8 2377.4 1700 2372.6 1704.1 2367.9C1708.2 2363.2 1712.3 2358.4 1716.3 2353.8C1720.2 2349.2 1724.2 2344.6 1728 2340.2C1731.8 2335.7 1735.4 2331.4 1739.1 2327.1C1742.9 2322.7 1746.4 2318.6 1750.4 2314.1C1754.4 2309.6 1758.8 2304.6 1763.1 2300C1767.3 2295.3 1771.7 2290.6 1775.9 2286.3C1780.2 2282 1784.4 2277.9 1788.5 2274.1C1792.7 2270.2 1796.7 2266.8 1800.9 2263C1805.2 2259.3 1809.5 2255.4 1814 2251.5C1818.4 2247.7 1823 2243.6 1827.6 2239.8C1832.3 2235.9 1837.1 2232.2 1841.9 2228.4C1846.7 2224.7 1851.8 2221 1856.4 2217.4C1861 2213.8 1865.2 2210.4 1869.6 2206.8C1873.9 2203.2 1878.3 2199.6 1882.6 2195.8C1886.9 2192 1891.2 2188.1 1895.4 2184C1899.7 2179.9 1903.9 2175.6 1908.1 2171.3C1912.3 2166.9 1916.6 2162.4 1920.6 2158C1924.7 2153.5 1928.6 2149.2 1932.5 2144.7C1936.5 2140.2 1940.5 2135.6 1944.4 2131C1948.3 2126.4 1952.1 2121.8 1956 2117.1C1959.8 2112.4 1963.7 2107.5 1967.4 2102.8C1971.2 2098.1 1974.7 2093.6 1978.5 2088.9C1982.3 2084.2 1986.4 2079.4 1990.3 2074.7C1994.3 2070 1998.4 2065.4 2002.3 2060.7C2006.1 2056 2010 2051.3 2013.6 2046.4C2017.2 2041.6 2020.8 2036.5 2023.9 2031.6C2027.1 2026.7 2030.1 2022 2032.6 2017.1C2035.1 2012.2 2038.1 2007.4 2038.9 2002.2C2039.6 1997.1 2039.6 1991 2037.1 1986.1C2034.6 1981.1 2029.2 1975.8 2023.9 1972.6C2018.6 1969.5 2011.3 1968.5 2005.2 1967.3C1999.1 1966.1 1993.5 1965.9 1987.4 1965.4C1981.3 1965 1975.1 1964.8 1968.8 1964.7C1962.5 1964.6 1956.1 1964.7 1949.7 1964.7C1943.4 1964.8 1937.1 1965.1 1930.8 1965.1C1924.5 1965.1 1918.2 1965.1 1911.9 1964.7C1905.6 1964.3 1899.3 1963.7 1893 1962.7C1886.6 1961.7 1880 1960 1873.8 1958.7C1867.7 1957.4 1861.9 1955.6 1855.9 1955C1850 1954.4 1844.2 1954.2 1838.3 1955C1832.4 1955.7 1826.1 1957.7 1820.5 1959.7Z"/></g>
<line x1="894.2" y1="3601.3" x2="3206.4" y2="1289.1" stroke="#c00000" stroke-width="31.5" stroke-dasharray="31.5 32.5" fill="none"/>
<polygon points="1711,1237.5 1772.1,1332.4 1881.2,1361.2 1809.9,1448.6 1816.2,1561.3 1711,1520.5 1605.8,1561.3 1612.1,1448.6 1540.8,1361.2 1649.9,1332.4" fill="none" stroke="#c00000" stroke-width="18.5" stroke-linejoin="round"/>
<rect x="575.7" y="190" width="3571.3" height="3548.4" fill="none" stroke="#000000" stroke-width="10.7"/>
<g font-family="'Liberation Serif', 'Times New Roman', serif" font-size="213.7" fill="#262626"><text x="565.7" y="3960" text-anchor="middle">−1</text><text x="1085.9" y="3960" text-anchor="middle">0</text><text x="1596.1" y="3960" text-anchor="middle">1</text><text x="2106.3" y="3960" text-anchor="middle">2</text><text x="2616.5" y="3960" text-anchor="middle">3</text><text x="3126.7" y="3960" text-anchor="middle">4</text><text x="3636.9" y="3960" text-anchor="middle">5</text><text x="4147.1" y="3960" text-anchor="middle">6</text><text x="498" y="3571.4" text-anchor="end">0</text><text x="498" y="2813.4" text-anchor="end">5</text><text x="498" y="2055.4" text-anchor="end">10</text><text x="498" y="1297.4" text-anchor="end">15</text><text x="498" y="539.4" text-anchor="end">20</text><text x="2361.3" y="4198" text-anchor="middle">Loss-WarmUp</text><text transform="translate(200 1964.2) rotate(-90)" text-anchor="middle">Loss-Base</text></g>
</svg>
</body>
</html>
